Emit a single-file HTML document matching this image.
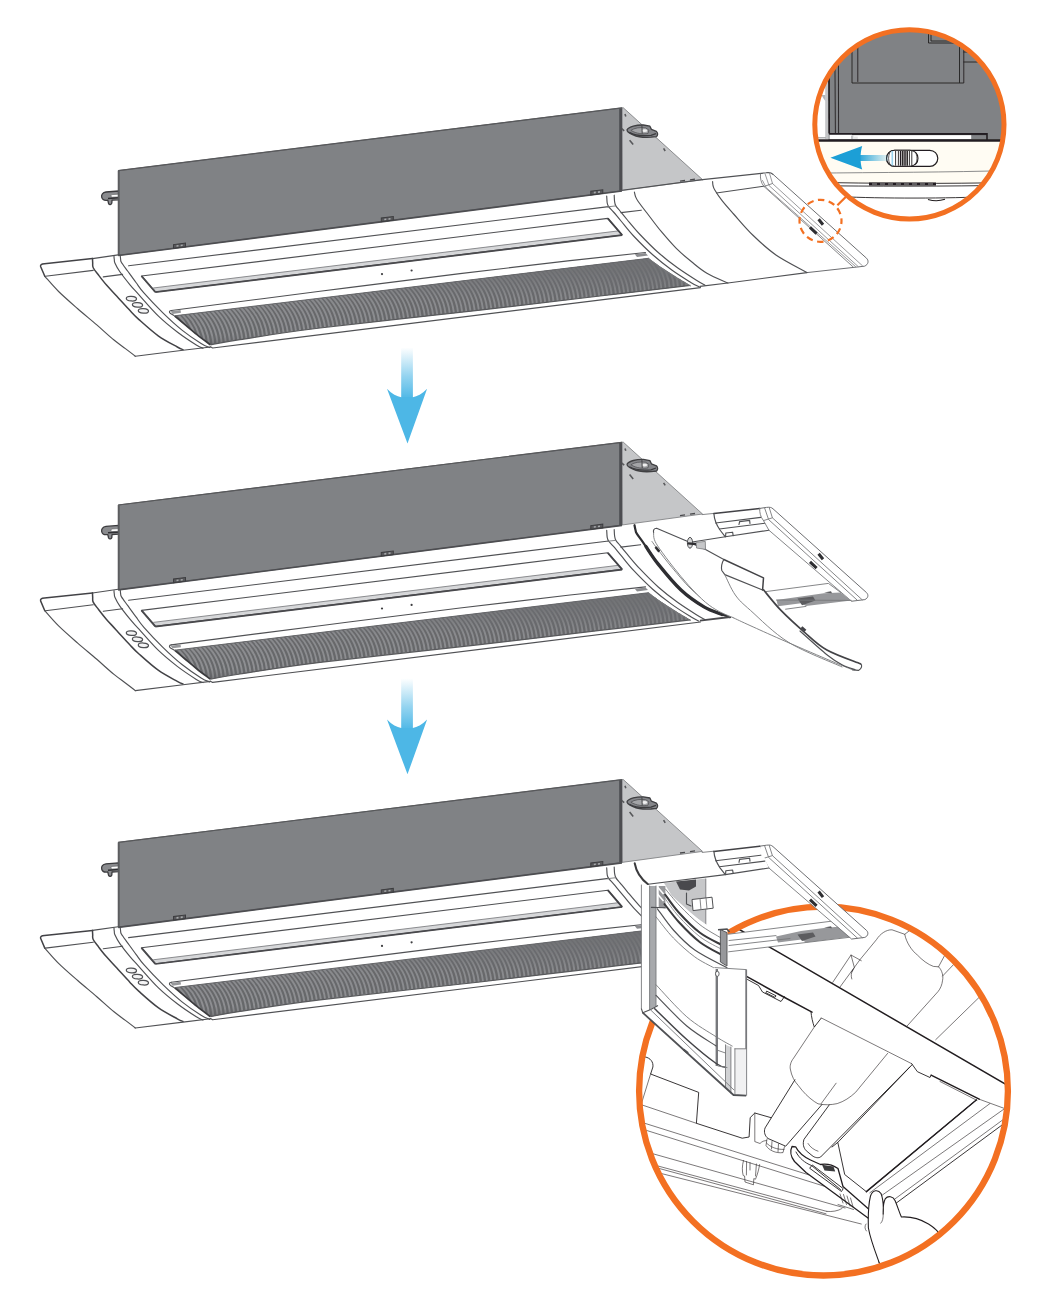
<!DOCTYPE html>
<html><head><meta charset="utf-8"><title>Panel</title>
<style>
html,body{margin:0;padding:0;background:#fff;}
body{width:1048px;height:1308px;overflow:hidden;font-family:"Liberation Sans",sans-serif;}
svg{display:block;}
.l{fill:none;stroke:#505154;stroke-width:1.15;stroke-linecap:round;stroke-linejoin:round;}
.lt{fill:none;stroke:#77787b;stroke-width:0.9;stroke-linecap:round;stroke-linejoin:round;}
.lm{fill:none;stroke:#6d6e71;stroke-width:1;stroke-linecap:round;stroke-linejoin:round;}
.le{fill:none;stroke:#8e8f92;stroke-width:0.9;stroke-linecap:round;stroke-linejoin:round;}
.ld{fill:none;stroke:#434346;stroke-width:1.5;stroke-linecap:round;stroke-linejoin:round;}
.lw{fill:#fff;stroke:#505154;stroke-width:1.15;stroke-linejoin:round;}
.lwt{fill:#fff;stroke:#8a8b8e;stroke-width:0.8;stroke-linejoin:round;}
.k{fill:none;stroke:#231f20;stroke-width:0.9;stroke-linecap:round;stroke-linejoin:round;}
.kw{fill:#fff;stroke:#231f20;stroke-width:0.9;stroke-linejoin:round;}
.k2{fill:none;stroke:#231f20;stroke-width:1.5;stroke-linecap:round;stroke-linejoin:round;}
.kt{fill:none;stroke:#231f20;stroke-width:0.6;stroke-linecap:round;stroke-linejoin:round;}
</style></head>
<body>
<svg width="1048" height="1308" viewBox="0 0 1048 1308">
<defs>
<filter id="soft" x="0" y="0" width="100%" height="100%" filterUnits="userSpaceOnUse" primitiveUnits="userSpaceOnUse"><feGaussianBlur stdDeviation="0.55"/></filter>

<linearGradient id="gdn" x1="0" y1="0" x2="0" y2="1">
  <stop offset="0" stop-color="#4db7e6" stop-opacity="0"/>
  <stop offset="0.55" stop-color="#4db7e6" stop-opacity="0.6"/>
  <stop offset="1" stop-color="#4db7e6" stop-opacity="1"/>
</linearGradient>
<linearGradient id="glf" x1="1" y1="0" x2="0" y2="0">
  <stop offset="0" stop-color="#1b9fd6" stop-opacity="0.1"/>
  <stop offset="1" stop-color="#1b9fd6" stop-opacity="1"/>
</linearGradient>
<pattern id="louv" width="4.1" height="40" patternUnits="userSpaceOnUse" patternTransform="matrix(1,-0.125,-0.25,1,0,0)">
  <rect width="4.1" height="40" fill="#696a6d"/>
  <rect x="0.6" width="1.9" height="40" fill="#8b8c8f"/>
</pattern>
<linearGradient id="gsh" x1="0" y1="0" x2="0.06" y2="1">
  <stop offset="0" stop-color="#6d6e71" stop-opacity="0.95"/>
  <stop offset="0.2" stop-color="#6d6e71" stop-opacity="0.8"/>
  <stop offset="0.5" stop-color="#6d6e71" stop-opacity="0.15"/>
  <stop offset="0.88" stop-color="#6d6e71" stop-opacity="0.0"/>
  <stop offset="1" stop-color="#58595b" stop-opacity="0.45"/>
</linearGradient>
<clipPath id="c1"><circle cx="909.4" cy="124.4" r="94.6"/></clipPath>
<clipPath id="c2"><circle cx="823.5" cy="1091.1" r="184.4"/></clipPath>
<clipPath id="gclip"><path d="M174.6,315.8 C176.3,317.3 181.3,321.5 185.0,324.6 C188.7,327.7 192.8,331.2 197.0,334.6 C201.2,338.0 208.1,343.1 210.3,344.8 L210.3,344.8 C215.2,343.9 221.7,342.4 240.0,339.6 C258.3,336.8 280.0,332.9 320.0,328.0 C360.0,323.1 433.3,315.5 480.0,310.2 C526.7,304.9 564.9,300.1 600.0,296.0 C635.1,291.9 675.3,287.2 690.4,285.4 L690.4,285.4 C688.0,284.0 680.7,279.7 676.0,276.8 C671.3,273.9 666.6,270.9 662.0,267.8 C657.4,264.7 650.8,259.9 648.6,258.3 Z"/></clipPath>
</defs>
<g filter="url(#soft)">
<rect x="-5" y="-5" width="1058" height="1318" fill="#fff"/>
<g clip-path="url(#c1)">
<rect x="810" y="25" width="200" height="200" fill="#fff"/>
<rect x="828.4" y="25" width="190" height="109" fill="#808285"/>
<rect x="825.2" y="25" width="3" height="114" fill="#c4c5c7"/>
<path d="M818,137.8 L826,137.8" stroke="#b0b1b3" stroke-width="1.6" fill="none"/>
<path d="M821.5,95 C823,98 824.5,100 825.4,101 L825.4,95 Z" fill="#b4b5b8"/>
<path d="M828.8,25 L829.2,133.6" stroke="#231f20" stroke-width="1.7" fill="none"/>
<path class="k" d="M834.7,25 L835.4,133.4 M838.3,25 L838.6,133.4"/>
<path class="k" d="M852,30 L852,83 L963.8,83 L963.8,30 M857.8,30 L857.8,81.5 M959.5,30 L959.5,82.5"/>
<path class="k" d="M928.5,25 L928.5,43 L960,43 M931,25 L931,41 L952,41"/>
<path class="k" d="M963.8,52 L978,52 M963.8,62 L985,62" />
<rect x="828.4" y="133.8" width="190" height="7" fill="#808285"/>
<rect x="829.6" y="135" width="141.6" height="4.2" fill="#fff"/>
<rect x="851" y="135.6" width="2.4" height="3.4" fill="#c4c5c7"/>
<rect x="853.8" y="136.6" width="4" height="2.4" fill="#e6e6e6"/>
<path d="M829,133.8 L987,133.8 L987,140" fill="none" stroke="#231f20" stroke-width="1.6"/>
<path d="M852,134.6 L987,134.6" fill="none" stroke="#231f20" stroke-width="1"/>
<rect x="810" y="141" width="200" height="42" fill="#fffcf3"/>
<path d="M810,140.4 L1010,140.4" stroke="#231f20" stroke-width="2.5" fill="none"/>
<path d="M810,173.2 C880,172.4 950,172.3 1010,170.5" stroke="#6d6e71" stroke-width="0.8" fill="none"/>
<rect x="810" y="183" width="200" height="45" fill="#fff"/>
<path d="M810,182.2 C870,183.6 950,183.8 1010,182.5" stroke="#231f20" stroke-width="0.9" fill="none"/>
<path d="M810,185.6 C870,186.4 950,186.4 1010,185.2" stroke="#231f20" stroke-width="0.9" fill="none"/>
<path d="M869,184 L936,184" stroke="#231f20" stroke-width="3" fill="none"/>
<path d="M872,184 L933,184" stroke="#9a9b9e" stroke-width="1" stroke-dasharray="5 3" fill="none"/>
<path d="M840,196.6 C880,198.6 950,198.6 990,196.4" stroke="#231f20" stroke-width="0.9" fill="none"/>
<path d="M928,199.5 C933,201 940,201 945,199.3" stroke="#231f20" stroke-width="1.2" fill="none"/>
<rect x="886.6" y="150.3" width="51.2" height="16" rx="8" ry="8" fill="#fff" stroke="#231f20" stroke-width="1.2"/>
<path d="M894.6,150.3 L910,150.3 C915.5,151 918,154.5 918,158.3 C918,162 915.5,165.6 910,166.3 L894.6,166.3 C890,166.3 886.6,162.8 886.6,158.3 C886.6,153.8 890,150.3 894.6,150.3 Z" fill="#fff" stroke="#231f20" stroke-width="1.1"/>
<path d="M889.8,152.5 C888.2,156 888.2,160.5 889.8,164" stroke="#231f20" stroke-width="0.7" fill="none"/>
<path d="M892.3,151 L892.3,165.6" stroke="#9ad4ee" stroke-width="1.6" fill="none"/>
<path d="M895.6,151 L895.6,165.7" stroke="#231f20" stroke-width="0.9" fill="none"/>
<path d="M898.4,151 L898.4,165.7" stroke="#231f20" stroke-width="0.9" fill="none"/>
<path d="M900.6,151 L900.6,165.7" stroke="#231f20" stroke-width="1.5" fill="none"/>
<path d="M902.8,151 L902.8,165.7" stroke="#231f20" stroke-width="1.5" fill="none"/>
<path d="M905,151 L905,165.7" stroke="#231f20" stroke-width="1.5" fill="none"/>
<path d="M907.2,151 L907.2,165.7" stroke="#231f20" stroke-width="1.5" fill="none"/>
<path d="M909.4,151 L909.4,165.7" stroke="#231f20" stroke-width="0.9" fill="none"/>
<path d="M911.8,151 L911.8,165.7" stroke="#231f20" stroke-width="0.9" fill="none"/>
<path d="M915,151.6 C917.6,155.5 917.6,161 915,165" stroke="#231f20" stroke-width="0.7" fill="none"/>
<rect x="857" y="155" width="31" height="6" fill="url(#glf)"/>
<path d="M830.4,157.7 L862.2,146 C860,153 860,162.5 862.2,169.4 Z" fill="#1b9fd6"/>
</g>
<circle cx="909.4" cy="124.4" r="94.6" fill="none" stroke="#f37021" stroke-width="5"/>
<g transform="translate(0,0)">
<path d="M118.6,191 L106,192 C102.6,192.5 101.2,194.8 101.7,197.2 C102.2,199.4 104,200.4 106.4,200.3 L107.8,200.2 L108.6,203.6 C109.4,205 111.4,204.8 111.8,203.2 L112,200.2 L118.6,199.8 Z" fill="#8a8b8e" stroke="#3a3a3d" stroke-width="1.3" stroke-linejoin="round"/>
<path d="M118.6,194.2 L112,194.6 C110.4,195 110.6,197 112.2,197.2 L118.6,196.9 Z" fill="#fff" stroke="#58595b" stroke-width="0.6"/>
<path d="M108,198.4 L118.6,197.8" stroke="#2f2f32" stroke-width="1.5" fill="none"/>
<path d="M621.5,107.8 L623.3,107.8 L702.5,179.6 L622,190.6 Z" fill="#c5c6c8" stroke="#77787b" stroke-width="0.8" stroke-linejoin="round"/>
<g transform="translate(642.4,131)"><path d="M-15.3,-1.4 C-13.5,-4.4 -6,-6.2 1,-6 L7.5,-4.8 L9,-1.6 L14,0.4 C15.6,2 15.6,4.2 14.2,5.6 L8.6,6.2 C3,6.6 -5,5.8 -9.3,3.8 C-12.8,2.4 -15.8,0.4 -15.3,-1.4 Z" fill="#85868a" stroke="#3f3f42" stroke-width="1.3" stroke-linejoin="round"/><path d="M-11.5,-0.6 C-8,-3.2 -2,-3.8 3,-3.2 L6.5,-1 L5.6,2.4 C1,3.4 -6,2.8 -11.5,-0.6 Z" fill="#a3a4a7" stroke="#4a4a4d" stroke-width="0.7"/><ellipse cx="2.2" cy="-0.3" rx="2.6" ry="1.4" fill="#efefef"/><path d="M-0.5,-5.6 L-0.2,2.6" stroke="#3f3f42" stroke-width="0.9" fill="none"/><path d="M-13,1.4 C-8,4.2 0,5.2 8.6,4.4 L13.6,2.6" fill="none" stroke="#3a3a3d" stroke-width="1.3"/></g>
<path d="M625,114 l0.8,2.4 M629.6,140.2 l3.6,4.4 M663.6,148.4 l1.6,2.6 M621.2,128.2 l3,2.6" fill="none" stroke="#58595b" stroke-width="1.6"/>
<path d="M680,181.2 l5,-0.7 M690,179.8 l5,-0.7" stroke="#4a4a4d" stroke-width="1.3" fill="none"/>
<path d="M118.2,170.6 L621.9,107.9 L621.9,190.8 L118.2,255.4 Z" fill="#808285" stroke="#5f6063" stroke-width="0.9" stroke-linejoin="round"/>
<path d="M118.9,171 L118.9,255" stroke="#58595b" stroke-width="1.5" fill="none"/>
<path d="M118.2,170.6 L621.9,107.9" stroke="#58595b" stroke-width="1.2" fill="none"/>
<path d="M620.6,108.4 L620.6,190.6" stroke="#4d4e51" stroke-width="2.8" fill="none"/>
<path d="M118.2,255.5 L621.9,191" stroke="#4d4e51" stroke-width="1.7" fill="none"/>
<g transform="translate(179.5,245.6) skewY(-7.1)"><rect x="-6" y="-1.7" width="12" height="3.6" fill="#58595b" stroke="#3c3c3f" stroke-width="1"/><rect x="-3" y="-0.7" width="2" height="1.6" fill="#a7a9ac"/><rect x="1.2" y="-0.7" width="2" height="1.6" fill="#a7a9ac"/></g>
<g transform="translate(387.3,219.0) skewY(-7.1)"><rect x="-6" y="-1.7" width="12" height="3.6" fill="#58595b" stroke="#3c3c3f" stroke-width="1"/><rect x="-3" y="-0.7" width="2" height="1.6" fill="#a7a9ac"/><rect x="1.2" y="-0.7" width="2" height="1.6" fill="#a7a9ac"/></g>
<g transform="translate(596.8,192.2) skewY(-7.1)"><rect x="-6" y="-1.7" width="12" height="3.6" fill="#58595b" stroke="#3c3c3f" stroke-width="1"/><rect x="-3" y="-0.7" width="2" height="1.6" fill="#a7a9ac"/><rect x="1.2" y="-0.7" width="2" height="1.6" fill="#a7a9ac"/></g>
<path class="l" d="M118.2,254.9 L92.5,258.6"/>
<path class="ld" d="M92.5,258.6 L44.5,263.7 C41.3,264 40.2,264.8 40.6,266.5 L44.8,276.3"/>
<path class="l" d="M44.8,276.3 C47.1,278.8 53.1,286.1 58.6,291.5 C64.1,296.9 71.3,303.1 77.7,308.7 C84.1,314.3 90.8,319.7 96.8,324.9 C102.8,330.1 109.2,336.1 114.0,340.0 C118.8,343.9 121.9,345.9 125.4,348.6 C129.0,351.3 133.7,354.9 135.3,356.2"/>
<path class="l" d="M45.4,276.3 L93.2,270.4"/>
<path class="ld" d="M92.5,258.6 C92.5,259.3 92.6,261.5 92.7,263.0 C92.8,264.5 92.2,265.6 93.2,267.7 C94.2,269.8 96.5,272.4 98.7,275.3 C100.9,278.2 103.4,281.5 106.3,284.8 C109.2,288.1 112.0,291.0 115.9,295.3 C119.9,299.6 126.2,306.6 130.0,310.6 C133.8,314.7 134.3,315.4 139.0,319.6 C143.7,323.8 151.8,331.2 158.2,335.8 C164.6,340.4 173.2,344.7 177.3,347.0 C181.4,349.3 182.1,349.2 183.0,349.6"/>
<path class="l" d="M103.3,276.9 L122.6,274.4"/>
<path class="l" d="M114.0,256.2 C114.0,256.8 114.1,258.4 114.3,259.5 C114.5,260.6 114.0,260.9 114.9,262.9 C115.8,264.9 117.2,267.9 119.7,271.5 C122.2,275.1 126.8,280.9 130.0,284.8 C133.2,288.7 134.3,289.6 139.0,294.8 C143.7,300.0 151.8,309.6 158.2,315.8 C164.6,322.0 171.0,327.1 177.3,332.0 C183.7,336.9 192.0,342.3 196.3,345.0 C200.6,347.7 201.9,347.7 203.0,348.2"/>
<path class="l" d="M120.2,255.2 C120.3,255.8 120.4,257.8 120.6,259.0 C120.8,260.2 120.3,260.5 121.5,262.5 C122.7,264.5 125.2,267.7 127.6,271.0 C130.0,274.3 133.3,278.9 136.0,282.5 C138.7,286.1 139.4,287.8 143.9,292.9 C148.4,298.0 156.6,306.7 162.9,312.9 C169.2,319.1 175.6,325.0 182.0,330.1 C188.4,335.2 196.5,340.6 201.1,343.5 C205.7,346.4 208.3,346.9 209.7,347.6"/>
<path class="l" d="M135.3,356.2 L183,350.3 L210.5,347"/>
<ellipse cx="131.4" cy="298.7" rx="5.1" ry="2.3" transform="rotate(4 131.4 298.7)" fill="#f4f4f5" stroke="#505154" stroke-width="1.25"/>
<ellipse cx="137.5" cy="304.9" rx="5.1" ry="2.3" transform="rotate(4 137.5 304.9)" fill="#f4f4f5" stroke="#505154" stroke-width="1.25"/>
<ellipse cx="143.4" cy="310.9" rx="5.1" ry="2.3" transform="rotate(4 143.4 310.9)" fill="#f4f4f5" stroke="#505154" stroke-width="1.25"/>
<path class="l" d="M128.6,265.8 L608.6,206.6"/>
<path d="M155.3,292.4 L622.1,235.4 L618.4,230.8 L152.8,288 Z" fill="#d6d7d9" stroke="none"/>
<path class="l" d="M141.5,276.0 L607.8,218.4 L622.1,235.0 L155.3,292.0 L141.5,276.0"/>
<path d="M141.5,276 L155.3,292" stroke="#4a4a4d" stroke-width="1.9" fill="none"/>
<path d="M155.3,292.2 L622.1,235.2" stroke="#4a4a4d" stroke-width="1.7" fill="none"/>
<path d="M153.2,288 L618.4,230.9" stroke="#808184" stroke-width="0.9" fill="none"/>
<path d="M607.8,218.4 L622.1,235" stroke="#434346" stroke-width="1.8" fill="none"/>
<circle cx="382" cy="274.1" r="1.1" fill="#3c3c3f"/><circle cx="411.6" cy="270.5" r="1.1" fill="#3c3c3f"/>
<path class="l" d="M171.3,310.5 C169,310.9 168.9,312.3 170.5,313.6 L174,315.6"/>
<path class="l" d="M171.3,310.5 C196.1,307.3 271.9,297.4 320.0,291.3 C368.1,285.2 418.3,278.7 460.0,273.6 C501.7,268.5 539.1,264.1 570.0,260.6 C600.9,257.1 632.9,253.8 645.5,252.5"/>
<path d="M170.5,311.3 L180.5,310 L181,312.8 L172.6,313.9 Z" fill="#97989b"/>
<path d="M634.8,254.3 L645.5,253 L648,255.6 L637,257 Z" fill="#8b8c8f"/>
<g>
<path d="M174.6,315.8 C176.3,317.3 181.3,321.5 185.0,324.6 C188.7,327.7 192.8,331.2 197.0,334.6 C201.2,338.0 208.1,343.1 210.3,344.8 L210.3,344.8 C215.2,343.9 221.7,342.4 240.0,339.6 C258.3,336.8 280.0,332.9 320.0,328.0 C360.0,323.1 433.3,315.5 480.0,310.2 C526.7,304.9 564.9,300.1 600.0,296.0 C635.1,291.9 675.3,287.2 690.4,285.4 L690.4,285.4 C688.0,284.0 680.7,279.7 676.0,276.8 C671.3,273.9 666.6,270.9 662.0,267.8 C657.4,264.7 650.8,259.9 648.6,258.3 Z" fill="#66676a"/>
<g clip-path="url(#gclip)" fill="none" stroke="#8e8f92" stroke-width="1.9">
<path d="M161.0,316.3 Q175.5,330.3 176.0,350.7 M165.2,315.8 Q179.7,329.8 180.2,350.2 M169.3,315.3 Q183.8,329.3 184.3,349.7 M173.5,314.8 Q188.0,328.8 188.5,349.2 M177.6,314.3 Q192.1,328.3 192.6,348.7 M181.8,313.8 Q196.3,327.8 196.8,348.2 M185.9,313.3 Q200.4,327.3 200.9,347.7 M190.1,312.8 Q204.6,326.8 205.1,347.1 M194.2,312.3 Q208.7,326.3 209.2,346.6 M198.4,311.8 Q212.9,325.8 213.4,346.1 M202.5,311.3 Q217.0,325.3 217.5,345.6 M206.7,310.8 Q221.2,324.8 221.7,345.1 M210.8,310.3 Q225.3,324.3 225.8,344.6 M215.0,309.8 Q229.5,323.8 230.0,344.1 M219.1,309.3 Q233.6,323.3 234.1,343.6 M223.3,308.8 Q237.8,322.8 238.3,343.0 M227.4,308.3 Q241.9,322.3 242.4,342.5 M231.6,307.8 Q246.1,321.8 246.6,342.0 M235.7,307.3 Q250.2,321.3 250.7,341.5 M239.9,306.8 Q254.4,320.8 254.9,341.0 M244.0,306.3 Q258.5,320.3 259.0,340.5 M248.2,305.8 Q262.7,319.8 263.2,340.0 M252.3,305.2 Q266.8,319.2 267.3,339.5 M256.5,304.7 Q271.0,318.7 271.5,338.9 M260.6,304.2 Q275.1,318.2 275.6,338.4 M264.8,303.7 Q279.2,317.7 279.8,337.9 M268.9,303.2 Q283.4,317.2 283.9,337.4 M273.0,302.7 Q287.5,316.7 288.0,336.9 M277.2,302.2 Q291.7,316.2 292.2,336.4 M281.3,301.7 Q295.8,315.7 296.3,335.9 M285.5,301.2 Q300.0,315.2 300.5,335.4 M289.6,300.7 Q304.1,314.7 304.6,334.8 M293.8,300.2 Q308.3,314.2 308.8,334.3 M297.9,299.7 Q312.4,313.7 312.9,333.8 M302.1,299.2 Q316.6,313.2 317.1,333.3 M306.2,298.7 Q320.7,312.7 321.2,332.8 M310.4,298.2 Q324.9,312.2 325.4,332.3 M314.5,297.7 Q329.0,311.7 329.5,331.8 M318.7,297.2 Q333.2,311.2 333.7,331.3 M322.8,296.7 Q337.3,310.7 337.8,330.7 M327.0,296.2 Q341.5,310.2 342.0,330.2 M331.1,295.7 Q345.6,309.7 346.1,329.7 M335.3,295.2 Q349.8,309.2 350.3,329.2 M339.4,294.7 Q353.9,308.7 354.4,328.7 M343.6,294.2 Q358.1,308.2 358.6,328.2 M347.7,293.7 Q362.2,307.7 362.7,327.7 M351.9,293.2 Q366.4,307.2 366.9,327.2 M356.0,292.7 Q370.5,306.7 371.0,326.6 M360.2,292.2 Q374.7,306.2 375.2,326.1 M364.3,291.7 Q378.8,305.7 379.3,325.6 M368.5,291.1 Q383.0,305.1 383.5,325.1 M372.6,290.6 Q387.1,304.6 387.6,324.6 M376.8,290.1 Q391.3,304.1 391.8,324.1 M380.9,289.6 Q395.4,303.6 395.9,323.6 M385.1,289.1 Q399.6,303.1 400.1,323.1 M389.2,288.6 Q403.7,302.6 404.2,322.5 M393.4,288.1 Q407.9,302.1 408.4,322.0 M397.5,287.6 Q412.0,301.6 412.5,321.5 M401.7,287.1 Q416.2,301.1 416.7,321.0 M405.8,286.6 Q420.3,300.6 420.8,320.5 M410.0,286.1 Q424.5,300.1 425.0,320.0 M414.1,285.6 Q428.6,299.6 429.1,319.5 M418.3,285.1 Q432.8,299.1 433.3,319.0 M422.4,284.6 Q436.9,298.6 437.4,318.4 M426.6,284.1 Q441.1,298.1 441.6,317.9 M430.7,283.6 Q445.2,297.6 445.7,317.4 M434.9,283.1 Q449.4,297.1 449.9,316.9 M439.0,282.6 Q453.5,296.6 454.0,316.4 M443.2,282.1 Q457.7,296.1 458.2,315.9 M447.3,281.6 Q461.8,295.6 462.3,315.4 M451.5,281.1 Q466.0,295.1 466.5,314.9 M455.6,280.6 Q470.1,294.6 470.6,314.3 M459.8,280.1 Q474.3,294.1 474.8,313.8 M463.9,279.6 Q478.4,293.6 478.9,313.3 M468.1,279.1 Q482.6,293.1 483.1,312.8 M472.2,278.6 Q486.7,292.6 487.2,312.3 M476.4,278.1 Q490.9,292.1 491.4,311.8 M480.5,277.6 Q495.0,291.6 495.5,311.3 M484.7,277.0 Q499.2,291.0 499.7,310.8 M488.8,276.5 Q503.3,290.5 503.8,310.2 M493.0,276.0 Q507.5,290.0 508.0,309.7 M497.1,275.5 Q511.6,289.5 512.1,309.2 M501.3,275.0 Q515.8,289.0 516.3,308.7 M505.4,274.5 Q519.9,288.5 520.4,308.2 M509.6,274.0 Q524.1,288.0 524.6,307.7 M513.7,273.5 Q528.2,287.5 528.7,307.2 M517.9,273.0 Q532.4,287.0 532.9,306.7 M522.0,272.5 Q536.5,286.5 537.0,306.1 M526.2,272.0 Q540.7,286.0 541.2,305.6 M530.3,271.5 Q544.8,285.5 545.3,305.1 M534.5,271.0 Q549.0,285.0 549.5,304.6 M538.6,270.5 Q553.1,284.5 553.6,304.1 M542.8,270.0 Q557.3,284.0 557.8,303.6 M546.9,269.5 Q561.4,283.5 561.9,303.1 M551.1,269.0 Q565.6,283.0 566.1,302.6 M555.2,268.5 Q569.7,282.5 570.2,302.0 M559.4,268.0 Q573.9,282.0 574.4,301.5 M563.5,267.5 Q578.0,281.5 578.5,301.0 M567.7,267.0 Q582.2,281.0 582.7,300.5 M571.8,266.5 Q586.3,280.5 586.8,300.0 M576.0,266.0 Q590.5,280.0 591.0,299.5 M580.1,265.5 Q594.6,279.5 595.1,299.0 M584.3,265.0 Q598.8,279.0 599.3,298.5 M588.4,264.5 Q602.9,278.5 603.4,297.9 M592.6,264.0 Q607.1,278.0 607.6,297.4 M596.7,263.5 Q611.2,277.5 611.7,296.9 M600.9,262.9 Q615.4,276.9 615.9,296.4 M605.0,262.4 Q619.5,276.4 620.0,295.9 M609.2,261.9 Q623.7,275.9 624.2,295.4 M613.3,261.4 Q627.8,275.4 628.3,294.9 M617.5,260.9 Q632.0,274.9 632.5,294.4 M621.6,260.4 Q636.1,274.4 636.6,293.8 M625.8,259.9 Q640.3,273.9 640.8,293.3 M629.9,259.4 Q644.4,273.4 644.9,292.8 M634.1,258.9 Q648.6,272.9 649.1,292.3 M638.2,258.4 Q652.7,272.4 653.2,291.8 M642.4,257.9 Q656.9,271.9 657.4,291.3 M646.5,257.4 Q661.0,271.4 661.5,290.8 M650.7,256.9 Q665.2,270.9 665.7,290.3 M654.8,256.4 Q669.3,270.4 669.8,289.7 M659.0,255.9 Q673.5,269.9 674.0,289.2 M663.1,255.4 Q677.6,269.4 678.1,288.7 M667.3,254.9 Q681.8,268.9 682.3,288.2 M671.4,254.4 Q685.9,268.4 686.4,287.7 M675.6,253.9 Q690.1,267.9 690.6,287.2 M679.7,253.4 Q694.2,267.4 694.7,286.7 M683.9,252.9 Q698.4,266.9 698.9,286.2"/>
</g>
<path d="M174.6,315.8 C176.3,317.3 181.3,321.5 185.0,324.6 C188.7,327.7 192.8,331.2 197.0,334.6 C201.2,338.0 208.1,343.1 210.3,344.8 L210.3,344.8 C215.2,343.9 221.7,342.4 240.0,339.6 C258.3,336.8 280.0,332.9 320.0,328.0 C360.0,323.1 433.3,315.5 480.0,310.2 C526.7,304.9 564.9,300.1 600.0,296.0 C635.1,291.9 675.3,287.2 690.4,285.4 L690.4,285.4 C688.0,284.0 680.7,279.7 676.0,276.8 C671.3,273.9 666.6,270.9 662.0,267.8 C657.4,264.7 650.8,259.9 648.6,258.3 Z" fill="url(#gsh)"/>
</g>
<path d="M174.6,315.8 C176.3,317.3 181.3,321.5 185.0,324.6 C188.7,327.7 192.8,331.2 197.0,334.6 C201.2,338.0 208.1,343.1 210.3,344.8" stroke="#3a3a3d" stroke-width="1.7" fill="none"/>
<path d="M174.6,315.8 L648.6,258.3" stroke="#66676a" stroke-width="1" fill="none"/>
<path d="M210.3,344.8 C215.2,343.9 221.7,342.4 240.0,339.6 C258.3,336.8 280.0,332.9 320.0,328.0 C360.0,323.1 433.3,315.5 480.0,310.2 C526.7,304.9 564.9,300.1 600.0,296.0 C635.1,291.9 675.3,287.2 690.4,285.4" stroke="#58595b" stroke-width="1.2" fill="none"/>
<path class="l" d="M210.5,346.8 L212.6,348 L700.5,287.6"/>
<path class="l" d="M606.7,196.0 C606.8,197.2 606.9,201.2 607.2,203.0 C607.5,204.8 607.6,205.1 608.6,206.6 C609.6,208.1 611.4,209.6 613.5,212.0 C615.6,214.4 617.6,217.0 621.0,221.0 C624.4,225.0 628.3,230.4 633.6,236.0 C638.9,241.6 646.3,249.1 652.7,254.8 C659.1,260.5 665.4,265.4 671.8,270.0 C678.1,274.6 686.3,279.6 690.8,282.4 C695.3,285.2 697.6,286.1 699.0,286.8"/>
<path class="l" d="M614.2,195.2 C614.3,196.2 614.3,199.7 614.6,201.5 C614.9,203.3 614.9,204.2 615.8,205.8 C616.7,207.4 618.1,208.7 620.0,211.0 C621.9,213.3 623.8,215.7 627.0,219.5 C630.2,223.3 634.2,228.4 639.5,234.0 C644.8,239.6 652.2,247.2 658.5,252.8 C664.8,258.4 671.2,263.3 677.5,267.8 C683.8,272.3 691.4,277.1 696.0,280.0 C700.6,282.9 703.5,284.4 705.0,285.3"/>
<path class="lt" d="M648.6,258.3 C650.8,260.0 657.4,265.4 662.0,268.6 C666.6,271.9 671.3,274.9 676.0,277.8 C680.7,280.7 688.0,284.6 690.4,286.0"/>
<path class="lt" d="M607.4,206.9 L615.8,205.9"/>
<path class="l" d="M622.0,190.3 L702.5,179.6"/>
<path class="l" d="M702.5,179.6 L766,172.8 C769.5,172.3 771.5,172.8 773,174.3"/>
<path class="lm" d="M773,174.3 L866.5,258.2 C869,260.6 868.5,264.5 864.5,266.2 L806.9,272.6"/>
<path class="l" d="M806.9,272.6 L727.9,283 L700,286.4"/>
<path class="l" d="M634.4,192.1 C634.6,192.8 634.9,194.9 635.5,196.5 C636.1,198.1 636.2,198.6 638.2,201.5 C640.2,204.4 643.9,209.1 647.7,214.0 C651.5,218.9 656.2,225.5 661.0,231.2 C665.8,236.9 671.2,243.3 676.3,248.4 C681.4,253.5 686.5,257.7 691.6,261.8 C696.7,265.9 700.9,269.7 706.9,273.2 C712.9,276.7 724.4,281.4 727.9,283.0"/>
<path class="l" d="M712.6,181.6 C712.7,182.2 712.6,184.1 713.0,185.5 C713.4,186.9 713.3,187.5 714.8,190.0 C716.3,192.5 719.0,196.7 722.1,200.7 C725.2,204.7 728.5,208.3 733.6,214.0 C738.7,219.7 745.6,228.1 752.7,235.0 C759.8,241.9 767.3,249.0 776.3,255.2 C785.3,261.4 801.8,269.5 806.9,272.4"/>
<path class="l" d="M621.0,212.6 L641.2,210.2"/>
<path class="l" d="M716.4,193.0 L763.5,186.2"/>
<path class="lt" d="M760.5,174 C760,178 761,183 764,186.5 L853,266.8"/>
<path class="le" d="M765,173.6 L769,185.5 L858,266.4"/>
<path class="le" d="M769.5,173.2 L772.5,183.5 L862.5,265.8"/>
<path class="le" d="M762.5,180.5 L766.2,187.6 L855.6,266.6"/>
<path class="lt" d="M764,186.5 L772.5,183.5"/>
<path d="M818.6,219.2 l4.4,5.6 M810,227.4 l6.6,6.2" stroke="#2f2f32" stroke-width="3" fill="none"/>
</g>
<circle cx="820.5" cy="220.8" r="21" fill="none" stroke="#f37021" stroke-width="2.2" stroke-dasharray="6.6 4.396" stroke-dashoffset="3.3"/>
<path d="M837.4,205.2 L846,196.8" stroke="#f37021" stroke-width="2.2" fill="none"/>
<rect x="401.2" y="347.4" width="11.7" height="52" fill="url(#gdn)"/>
<path d="M387,388.7 C392,393.9 397,396.4 401.2,397.2 L412.9,397.2 C417,396.4 422,393.9 427.1,388.7 L407.5,443.4 Z" fill="#4db7e6"/>
<g transform="translate(0,334.4)">
<path d="M118.6,191 L106,192 C102.6,192.5 101.2,194.8 101.7,197.2 C102.2,199.4 104,200.4 106.4,200.3 L107.8,200.2 L108.6,203.6 C109.4,205 111.4,204.8 111.8,203.2 L112,200.2 L118.6,199.8 Z" fill="#8a8b8e" stroke="#3a3a3d" stroke-width="1.3" stroke-linejoin="round"/>
<path d="M118.6,194.2 L112,194.6 C110.4,195 110.6,197 112.2,197.2 L118.6,196.9 Z" fill="#fff" stroke="#58595b" stroke-width="0.6"/>
<path d="M108,198.4 L118.6,197.8" stroke="#2f2f32" stroke-width="1.5" fill="none"/>
<path d="M621.5,107.8 L623.3,107.8 L702.5,179.6 L622,190.6 Z" fill="#c5c6c8" stroke="#77787b" stroke-width="0.8" stroke-linejoin="round"/>
<g transform="translate(642.4,131)"><path d="M-15.3,-1.4 C-13.5,-4.4 -6,-6.2 1,-6 L7.5,-4.8 L9,-1.6 L14,0.4 C15.6,2 15.6,4.2 14.2,5.6 L8.6,6.2 C3,6.6 -5,5.8 -9.3,3.8 C-12.8,2.4 -15.8,0.4 -15.3,-1.4 Z" fill="#85868a" stroke="#3f3f42" stroke-width="1.3" stroke-linejoin="round"/><path d="M-11.5,-0.6 C-8,-3.2 -2,-3.8 3,-3.2 L6.5,-1 L5.6,2.4 C1,3.4 -6,2.8 -11.5,-0.6 Z" fill="#a3a4a7" stroke="#4a4a4d" stroke-width="0.7"/><ellipse cx="2.2" cy="-0.3" rx="2.6" ry="1.4" fill="#efefef"/><path d="M-0.5,-5.6 L-0.2,2.6" stroke="#3f3f42" stroke-width="0.9" fill="none"/><path d="M-13,1.4 C-8,4.2 0,5.2 8.6,4.4 L13.6,2.6" fill="none" stroke="#3a3a3d" stroke-width="1.3"/></g>
<path d="M625,114 l0.8,2.4 M629.6,140.2 l3.6,4.4 M663.6,148.4 l1.6,2.6 M621.2,128.2 l3,2.6" fill="none" stroke="#58595b" stroke-width="1.6"/>
<path d="M680,181.2 l5,-0.7 M690,179.8 l5,-0.7" stroke="#4a4a4d" stroke-width="1.3" fill="none"/>
<path d="M118.2,170.6 L621.9,107.9 L621.9,190.8 L118.2,255.4 Z" fill="#808285" stroke="#5f6063" stroke-width="0.9" stroke-linejoin="round"/>
<path d="M118.9,171 L118.9,255" stroke="#58595b" stroke-width="1.5" fill="none"/>
<path d="M118.2,170.6 L621.9,107.9" stroke="#58595b" stroke-width="1.2" fill="none"/>
<path d="M620.6,108.4 L620.6,190.6" stroke="#4d4e51" stroke-width="2.8" fill="none"/>
<path d="M118.2,255.5 L621.9,191" stroke="#4d4e51" stroke-width="1.7" fill="none"/>
<g transform="translate(179.5,245.6) skewY(-7.1)"><rect x="-6" y="-1.7" width="12" height="3.6" fill="#58595b" stroke="#3c3c3f" stroke-width="1"/><rect x="-3" y="-0.7" width="2" height="1.6" fill="#a7a9ac"/><rect x="1.2" y="-0.7" width="2" height="1.6" fill="#a7a9ac"/></g>
<g transform="translate(387.3,219.0) skewY(-7.1)"><rect x="-6" y="-1.7" width="12" height="3.6" fill="#58595b" stroke="#3c3c3f" stroke-width="1"/><rect x="-3" y="-0.7" width="2" height="1.6" fill="#a7a9ac"/><rect x="1.2" y="-0.7" width="2" height="1.6" fill="#a7a9ac"/></g>
<g transform="translate(596.8,192.2) skewY(-7.1)"><rect x="-6" y="-1.7" width="12" height="3.6" fill="#58595b" stroke="#3c3c3f" stroke-width="1"/><rect x="-3" y="-0.7" width="2" height="1.6" fill="#a7a9ac"/><rect x="1.2" y="-0.7" width="2" height="1.6" fill="#a7a9ac"/></g>
<path class="l" d="M118.2,254.9 L92.5,258.6"/>
<path class="ld" d="M92.5,258.6 L44.5,263.7 C41.3,264 40.2,264.8 40.6,266.5 L44.8,276.3"/>
<path class="l" d="M44.8,276.3 C47.1,278.8 53.1,286.1 58.6,291.5 C64.1,296.9 71.3,303.1 77.7,308.7 C84.1,314.3 90.8,319.7 96.8,324.9 C102.8,330.1 109.2,336.1 114.0,340.0 C118.8,343.9 121.9,345.9 125.4,348.6 C129.0,351.3 133.7,354.9 135.3,356.2"/>
<path class="l" d="M45.4,276.3 L93.2,270.4"/>
<path class="ld" d="M92.5,258.6 C92.5,259.3 92.6,261.5 92.7,263.0 C92.8,264.5 92.2,265.6 93.2,267.7 C94.2,269.8 96.5,272.4 98.7,275.3 C100.9,278.2 103.4,281.5 106.3,284.8 C109.2,288.1 112.0,291.0 115.9,295.3 C119.9,299.6 126.2,306.6 130.0,310.6 C133.8,314.7 134.3,315.4 139.0,319.6 C143.7,323.8 151.8,331.2 158.2,335.8 C164.6,340.4 173.2,344.7 177.3,347.0 C181.4,349.3 182.1,349.2 183.0,349.6"/>
<path class="l" d="M103.3,276.9 L122.6,274.4"/>
<path class="l" d="M114.0,256.2 C114.0,256.8 114.1,258.4 114.3,259.5 C114.5,260.6 114.0,260.9 114.9,262.9 C115.8,264.9 117.2,267.9 119.7,271.5 C122.2,275.1 126.8,280.9 130.0,284.8 C133.2,288.7 134.3,289.6 139.0,294.8 C143.7,300.0 151.8,309.6 158.2,315.8 C164.6,322.0 171.0,327.1 177.3,332.0 C183.7,336.9 192.0,342.3 196.3,345.0 C200.6,347.7 201.9,347.7 203.0,348.2"/>
<path class="l" d="M120.2,255.2 C120.3,255.8 120.4,257.8 120.6,259.0 C120.8,260.2 120.3,260.5 121.5,262.5 C122.7,264.5 125.2,267.7 127.6,271.0 C130.0,274.3 133.3,278.9 136.0,282.5 C138.7,286.1 139.4,287.8 143.9,292.9 C148.4,298.0 156.6,306.7 162.9,312.9 C169.2,319.1 175.6,325.0 182.0,330.1 C188.4,335.2 196.5,340.6 201.1,343.5 C205.7,346.4 208.3,346.9 209.7,347.6"/>
<path class="l" d="M135.3,356.2 L183,350.3 L210.5,347"/>
<ellipse cx="131.4" cy="298.7" rx="5.1" ry="2.3" transform="rotate(4 131.4 298.7)" fill="#f4f4f5" stroke="#505154" stroke-width="1.25"/>
<ellipse cx="137.5" cy="304.9" rx="5.1" ry="2.3" transform="rotate(4 137.5 304.9)" fill="#f4f4f5" stroke="#505154" stroke-width="1.25"/>
<ellipse cx="143.4" cy="310.9" rx="5.1" ry="2.3" transform="rotate(4 143.4 310.9)" fill="#f4f4f5" stroke="#505154" stroke-width="1.25"/>
<path class="l" d="M128.6,265.8 L608.6,206.6"/>
<path d="M155.3,292.4 L622.1,235.4 L618.4,230.8 L152.8,288 Z" fill="#d6d7d9" stroke="none"/>
<path class="l" d="M141.5,276.0 L607.8,218.4 L622.1,235.0 L155.3,292.0 L141.5,276.0"/>
<path d="M141.5,276 L155.3,292" stroke="#4a4a4d" stroke-width="1.9" fill="none"/>
<path d="M155.3,292.2 L622.1,235.2" stroke="#4a4a4d" stroke-width="1.7" fill="none"/>
<path d="M153.2,288 L618.4,230.9" stroke="#808184" stroke-width="0.9" fill="none"/>
<path d="M607.8,218.4 L622.1,235" stroke="#434346" stroke-width="1.8" fill="none"/>
<circle cx="382" cy="274.1" r="1.1" fill="#3c3c3f"/><circle cx="411.6" cy="270.5" r="1.1" fill="#3c3c3f"/>
<path class="l" d="M171.3,310.5 C169,310.9 168.9,312.3 170.5,313.6 L174,315.6"/>
<path class="l" d="M171.3,310.5 C196.1,307.3 271.9,297.4 320.0,291.3 C368.1,285.2 418.3,278.7 460.0,273.6 C501.7,268.5 539.1,264.1 570.0,260.6 C600.9,257.1 632.9,253.8 645.5,252.5"/>
<path d="M170.5,311.3 L180.5,310 L181,312.8 L172.6,313.9 Z" fill="#97989b"/>
<path d="M634.8,254.3 L645.5,253 L648,255.6 L637,257 Z" fill="#8b8c8f"/>
<g>
<path d="M174.6,315.8 C176.3,317.3 181.3,321.5 185.0,324.6 C188.7,327.7 192.8,331.2 197.0,334.6 C201.2,338.0 208.1,343.1 210.3,344.8 L210.3,344.8 C215.2,343.9 221.7,342.4 240.0,339.6 C258.3,336.8 280.0,332.9 320.0,328.0 C360.0,323.1 433.3,315.5 480.0,310.2 C526.7,304.9 564.9,300.1 600.0,296.0 C635.1,291.9 675.3,287.2 690.4,285.4 L690.4,285.4 C688.0,284.0 680.7,279.7 676.0,276.8 C671.3,273.9 666.6,270.9 662.0,267.8 C657.4,264.7 650.8,259.9 648.6,258.3 Z" fill="#66676a"/>
<g clip-path="url(#gclip)" fill="none" stroke="#8e8f92" stroke-width="1.9">
<path d="M161.0,316.3 Q175.5,330.3 176.0,350.7 M165.2,315.8 Q179.7,329.8 180.2,350.2 M169.3,315.3 Q183.8,329.3 184.3,349.7 M173.5,314.8 Q188.0,328.8 188.5,349.2 M177.6,314.3 Q192.1,328.3 192.6,348.7 M181.8,313.8 Q196.3,327.8 196.8,348.2 M185.9,313.3 Q200.4,327.3 200.9,347.7 M190.1,312.8 Q204.6,326.8 205.1,347.1 M194.2,312.3 Q208.7,326.3 209.2,346.6 M198.4,311.8 Q212.9,325.8 213.4,346.1 M202.5,311.3 Q217.0,325.3 217.5,345.6 M206.7,310.8 Q221.2,324.8 221.7,345.1 M210.8,310.3 Q225.3,324.3 225.8,344.6 M215.0,309.8 Q229.5,323.8 230.0,344.1 M219.1,309.3 Q233.6,323.3 234.1,343.6 M223.3,308.8 Q237.8,322.8 238.3,343.0 M227.4,308.3 Q241.9,322.3 242.4,342.5 M231.6,307.8 Q246.1,321.8 246.6,342.0 M235.7,307.3 Q250.2,321.3 250.7,341.5 M239.9,306.8 Q254.4,320.8 254.9,341.0 M244.0,306.3 Q258.5,320.3 259.0,340.5 M248.2,305.8 Q262.7,319.8 263.2,340.0 M252.3,305.2 Q266.8,319.2 267.3,339.5 M256.5,304.7 Q271.0,318.7 271.5,338.9 M260.6,304.2 Q275.1,318.2 275.6,338.4 M264.8,303.7 Q279.2,317.7 279.8,337.9 M268.9,303.2 Q283.4,317.2 283.9,337.4 M273.0,302.7 Q287.5,316.7 288.0,336.9 M277.2,302.2 Q291.7,316.2 292.2,336.4 M281.3,301.7 Q295.8,315.7 296.3,335.9 M285.5,301.2 Q300.0,315.2 300.5,335.4 M289.6,300.7 Q304.1,314.7 304.6,334.8 M293.8,300.2 Q308.3,314.2 308.8,334.3 M297.9,299.7 Q312.4,313.7 312.9,333.8 M302.1,299.2 Q316.6,313.2 317.1,333.3 M306.2,298.7 Q320.7,312.7 321.2,332.8 M310.4,298.2 Q324.9,312.2 325.4,332.3 M314.5,297.7 Q329.0,311.7 329.5,331.8 M318.7,297.2 Q333.2,311.2 333.7,331.3 M322.8,296.7 Q337.3,310.7 337.8,330.7 M327.0,296.2 Q341.5,310.2 342.0,330.2 M331.1,295.7 Q345.6,309.7 346.1,329.7 M335.3,295.2 Q349.8,309.2 350.3,329.2 M339.4,294.7 Q353.9,308.7 354.4,328.7 M343.6,294.2 Q358.1,308.2 358.6,328.2 M347.7,293.7 Q362.2,307.7 362.7,327.7 M351.9,293.2 Q366.4,307.2 366.9,327.2 M356.0,292.7 Q370.5,306.7 371.0,326.6 M360.2,292.2 Q374.7,306.2 375.2,326.1 M364.3,291.7 Q378.8,305.7 379.3,325.6 M368.5,291.1 Q383.0,305.1 383.5,325.1 M372.6,290.6 Q387.1,304.6 387.6,324.6 M376.8,290.1 Q391.3,304.1 391.8,324.1 M380.9,289.6 Q395.4,303.6 395.9,323.6 M385.1,289.1 Q399.6,303.1 400.1,323.1 M389.2,288.6 Q403.7,302.6 404.2,322.5 M393.4,288.1 Q407.9,302.1 408.4,322.0 M397.5,287.6 Q412.0,301.6 412.5,321.5 M401.7,287.1 Q416.2,301.1 416.7,321.0 M405.8,286.6 Q420.3,300.6 420.8,320.5 M410.0,286.1 Q424.5,300.1 425.0,320.0 M414.1,285.6 Q428.6,299.6 429.1,319.5 M418.3,285.1 Q432.8,299.1 433.3,319.0 M422.4,284.6 Q436.9,298.6 437.4,318.4 M426.6,284.1 Q441.1,298.1 441.6,317.9 M430.7,283.6 Q445.2,297.6 445.7,317.4 M434.9,283.1 Q449.4,297.1 449.9,316.9 M439.0,282.6 Q453.5,296.6 454.0,316.4 M443.2,282.1 Q457.7,296.1 458.2,315.9 M447.3,281.6 Q461.8,295.6 462.3,315.4 M451.5,281.1 Q466.0,295.1 466.5,314.9 M455.6,280.6 Q470.1,294.6 470.6,314.3 M459.8,280.1 Q474.3,294.1 474.8,313.8 M463.9,279.6 Q478.4,293.6 478.9,313.3 M468.1,279.1 Q482.6,293.1 483.1,312.8 M472.2,278.6 Q486.7,292.6 487.2,312.3 M476.4,278.1 Q490.9,292.1 491.4,311.8 M480.5,277.6 Q495.0,291.6 495.5,311.3 M484.7,277.0 Q499.2,291.0 499.7,310.8 M488.8,276.5 Q503.3,290.5 503.8,310.2 M493.0,276.0 Q507.5,290.0 508.0,309.7 M497.1,275.5 Q511.6,289.5 512.1,309.2 M501.3,275.0 Q515.8,289.0 516.3,308.7 M505.4,274.5 Q519.9,288.5 520.4,308.2 M509.6,274.0 Q524.1,288.0 524.6,307.7 M513.7,273.5 Q528.2,287.5 528.7,307.2 M517.9,273.0 Q532.4,287.0 532.9,306.7 M522.0,272.5 Q536.5,286.5 537.0,306.1 M526.2,272.0 Q540.7,286.0 541.2,305.6 M530.3,271.5 Q544.8,285.5 545.3,305.1 M534.5,271.0 Q549.0,285.0 549.5,304.6 M538.6,270.5 Q553.1,284.5 553.6,304.1 M542.8,270.0 Q557.3,284.0 557.8,303.6 M546.9,269.5 Q561.4,283.5 561.9,303.1 M551.1,269.0 Q565.6,283.0 566.1,302.6 M555.2,268.5 Q569.7,282.5 570.2,302.0 M559.4,268.0 Q573.9,282.0 574.4,301.5 M563.5,267.5 Q578.0,281.5 578.5,301.0 M567.7,267.0 Q582.2,281.0 582.7,300.5 M571.8,266.5 Q586.3,280.5 586.8,300.0 M576.0,266.0 Q590.5,280.0 591.0,299.5 M580.1,265.5 Q594.6,279.5 595.1,299.0 M584.3,265.0 Q598.8,279.0 599.3,298.5 M588.4,264.5 Q602.9,278.5 603.4,297.9 M592.6,264.0 Q607.1,278.0 607.6,297.4 M596.7,263.5 Q611.2,277.5 611.7,296.9 M600.9,262.9 Q615.4,276.9 615.9,296.4 M605.0,262.4 Q619.5,276.4 620.0,295.9 M609.2,261.9 Q623.7,275.9 624.2,295.4 M613.3,261.4 Q627.8,275.4 628.3,294.9 M617.5,260.9 Q632.0,274.9 632.5,294.4 M621.6,260.4 Q636.1,274.4 636.6,293.8 M625.8,259.9 Q640.3,273.9 640.8,293.3 M629.9,259.4 Q644.4,273.4 644.9,292.8 M634.1,258.9 Q648.6,272.9 649.1,292.3 M638.2,258.4 Q652.7,272.4 653.2,291.8 M642.4,257.9 Q656.9,271.9 657.4,291.3 M646.5,257.4 Q661.0,271.4 661.5,290.8 M650.7,256.9 Q665.2,270.9 665.7,290.3 M654.8,256.4 Q669.3,270.4 669.8,289.7 M659.0,255.9 Q673.5,269.9 674.0,289.2 M663.1,255.4 Q677.6,269.4 678.1,288.7 M667.3,254.9 Q681.8,268.9 682.3,288.2 M671.4,254.4 Q685.9,268.4 686.4,287.7 M675.6,253.9 Q690.1,267.9 690.6,287.2 M679.7,253.4 Q694.2,267.4 694.7,286.7 M683.9,252.9 Q698.4,266.9 698.9,286.2"/>
</g>
<path d="M174.6,315.8 C176.3,317.3 181.3,321.5 185.0,324.6 C188.7,327.7 192.8,331.2 197.0,334.6 C201.2,338.0 208.1,343.1 210.3,344.8 L210.3,344.8 C215.2,343.9 221.7,342.4 240.0,339.6 C258.3,336.8 280.0,332.9 320.0,328.0 C360.0,323.1 433.3,315.5 480.0,310.2 C526.7,304.9 564.9,300.1 600.0,296.0 C635.1,291.9 675.3,287.2 690.4,285.4 L690.4,285.4 C688.0,284.0 680.7,279.7 676.0,276.8 C671.3,273.9 666.6,270.9 662.0,267.8 C657.4,264.7 650.8,259.9 648.6,258.3 Z" fill="url(#gsh)"/>
</g>
<path d="M174.6,315.8 C176.3,317.3 181.3,321.5 185.0,324.6 C188.7,327.7 192.8,331.2 197.0,334.6 C201.2,338.0 208.1,343.1 210.3,344.8" stroke="#3a3a3d" stroke-width="1.7" fill="none"/>
<path d="M174.6,315.8 L648.6,258.3" stroke="#66676a" stroke-width="1" fill="none"/>
<path d="M210.3,344.8 C215.2,343.9 221.7,342.4 240.0,339.6 C258.3,336.8 280.0,332.9 320.0,328.0 C360.0,323.1 433.3,315.5 480.0,310.2 C526.7,304.9 564.9,300.1 600.0,296.0 C635.1,291.9 675.3,287.2 690.4,285.4" stroke="#58595b" stroke-width="1.2" fill="none"/>
<path class="l" d="M210.5,346.8 L212.6,348 L700.5,287.6"/>
<path class="l" d="M606.7,196.0 C606.8,197.2 606.9,201.2 607.2,203.0 C607.5,204.8 607.6,205.1 608.6,206.6 C609.6,208.1 611.4,209.6 613.5,212.0 C615.6,214.4 617.6,217.0 621.0,221.0 C624.4,225.0 628.3,230.4 633.6,236.0 C638.9,241.6 646.3,249.1 652.7,254.8 C659.1,260.5 665.4,265.4 671.8,270.0 C678.1,274.6 686.3,279.6 690.8,282.4 C695.3,285.2 697.6,286.1 699.0,286.8"/>
<path class="l" d="M614.2,195.2 C614.3,196.2 614.3,199.7 614.6,201.5 C614.9,203.3 614.9,204.2 615.8,205.8 C616.7,207.4 618.1,208.7 620.0,211.0 C621.9,213.3 623.8,215.7 627.0,219.5 C630.2,223.3 634.2,228.4 639.5,234.0 C644.8,239.6 652.2,247.2 658.5,252.8 C664.8,258.4 671.2,263.3 677.5,267.8 C683.8,272.3 691.4,277.1 696.0,280.0 C700.6,282.9 703.5,284.4 705.0,285.3"/>
<path class="lt" d="M648.6,258.3 C650.8,260.0 657.4,265.4 662.0,268.6 C666.6,271.9 671.3,274.9 676.0,277.8 C680.7,280.7 688.0,284.6 690.4,286.0"/>
<path class="lt" d="M607.4,206.9 L615.8,205.9"/>

</g>
<path class="lt" d="M702.2,514.6 L713.9,513.4"/>
<path class="ld" d="M713.9,513.6 L759.7,508.4"/>
<path class="lm" d="M759.7,508.4 L766.5,507.4 C769.5,507 771.5,507.3 773,508.8 L866.5,592.6 C868.8,594.8 868.2,598.2 864.8,599.6 L852,601.2"/>
<path class="l" d="M713.9,513.6 C714.3,519.5 716.5,525 720,530 L725.3,536.8 L768.9,530.2"/>
<path class="l" d="M715.6,523 L760.8,517.4 M719.4,529 L764.8,523.3"/>
<path class="l" d="M739,524.5 L739.6,521.6 L749.6,520.4 L750,523.4 M725.6,536.5 L725.8,533 L732.6,532.2 L733.2,535.6"/>
<path class="lt" d="M759.7,508.6 C759.5,512.5 760.5,517 763.5,520.6 L768.9,530.2 L851.5,601.2"/>
<path class="lt" d="M764.6,508 L768.6,519.6 L857.5,600.4"/>
<path class="lt" d="M769.2,507.6 L772.4,517.8 L862.2,599.8"/>
<path class="lt" d="M763.5,520.6 L772.4,517.8"/>
<path d="M818.6,553.7 l4.4,5.6 M810,561.9 l6.6,6.2" stroke="#2f2f32" stroke-width="3" fill="none"/>
<path class="l" d="M690.5,542.2 L725.3,536.8"/>
<path d="M776.5,600 L823.8,593.3 L840.6,592.4 L851.3,600.4 L806,606 L801,603.3 L778,606.2 Z" fill="#97989b"/>
<path d="M797.5,598.4 L813,596.4 L815.5,600.6 L802,605.3 Z M824,592.6 L831,591.2 L832,593.2 Z" fill="#5b5c5f"/>
<path class="lt" d="M765.8,591.6 L828.4,583.4 L840.6,592.4 M776.5,600 L851.3,600.4 M785.6,609.2 L806,606.4"/>
<path d="M634.5,525.2 C634.7,526.0 635.1,528.6 635.5,530.0 C635.9,531.4 635.3,531.2 636.8,533.6 C638.3,536.0 640.8,539.2 644.4,544.3 C648.0,549.4 652.1,556.5 658.2,564.1 C664.3,571.7 673.4,582.9 681.0,590.0 C688.6,597.1 695.8,602.4 704.0,606.9 C712.2,611.4 725.7,615.5 730.0,617.2" fill="none" stroke="#2f2f32" stroke-width="2.2" stroke-linecap="round"/>
<path d="M646.0,546.6 C648.0,549.5 652.4,556.9 658.2,564.1 C664.0,571.3 673.4,582.9 681.0,590.0 C688.6,597.1 697.2,602.8 704.0,606.9 C710.8,611.0 719.0,613.3 722.0,614.6" fill="none" stroke="#2f2f32" stroke-width="3.3" stroke-linecap="round"/>
<path class="lt" d="M652.0,541.5 C653.0,542.9 654.9,545.7 658.2,550.0 C661.5,554.3 666.7,561.2 672.0,567.5 C677.3,573.8 684.0,582.1 690.0,588.0 C696.0,593.9 702.0,598.9 708.0,603.0 C714.0,607.1 723.0,610.9 726.0,612.5"/>
<path d="M655.5,547 l3.8,4.6" stroke="#2f2f32" stroke-width="2.6" fill="none"/>
<path d="M700,620.6 L730,617" stroke="#4a4a4d" stroke-width="1.8" fill="none"/>
<path class="l" d="M621.0,547.1 L640.5,544.7"/>
<path d="M656.6,528.2 L687.2,541.2 L705.5,549.6 L723.8,559.5 L763.5,577.9 L763.5,589.8 L763.5,589.8 C766.4,593.2 774.2,603.4 781.0,610.4 C787.8,617.4 796.4,625.2 804.0,631.8 C811.6,638.4 817.5,644.7 826.9,650.0 C836.3,655.3 854.9,661.5 860.5,663.8 C862.5,665 862,668.5 858.5,670.4 L852.8,669.9 L852.8,669.9 C848.5,668.1 838.9,664.3 826.9,659.2 C814.9,654.1 793.8,645.0 781.0,639.4 C768.2,633.8 758.0,629.1 750.0,625.5 C742.0,621.9 735.8,618.9 733.0,617.6 L733.0,617.6 C730.7,616.6 723.8,614.0 719.2,611.5 C714.6,609.0 710.6,606.6 705.5,602.3 C700.4,598.0 694.1,591.4 688.7,585.5 C683.4,579.6 678.2,573.3 673.4,567.2 C668.6,561.1 662.9,553.5 659.7,548.9 C656.5,544.3 655.4,542.4 654.4,539.7 C653.4,537.0 653.7,533.9 653.6,532.8 C653,530 654,528.4 656.6,528.2 Z" fill="#fff" stroke="none"/>
<path class="l" d="M653.6,532.8 C653,530 654,528.4 656.6,528.2 L687.2,541.2 L705.5,549.6 L723.8,559.5"/>
<path class="lt" d="M653.6,532.8 C653.7,533.9 653.4,537.0 654.4,539.7 C655.4,542.4 656.5,544.3 659.7,548.9 C662.9,553.5 668.6,561.1 673.4,567.2 C678.2,573.3 683.4,579.6 688.7,585.5 C694.1,591.4 700.4,598.0 705.5,602.3 C710.6,606.6 714.6,609.0 719.2,611.5 C723.8,614.0 730.7,616.6 733.0,617.6"/>
<path class="lt" d="M733.0,617.6 C735.8,618.9 742.0,621.9 750.0,625.5 C758.0,629.1 768.2,633.8 781.0,639.4 C793.8,645.0 814.9,654.1 826.9,659.2 C838.9,664.3 848.5,668.1 852.8,669.9"/>
<path class="ld" d="M723.8,559.5 L763.5,577.9 L762.6,590"/>
<path class="l" d="M723.8,559.5 C721.8,563 721,567 721.8,570.5 L724.8,574.6 L762.6,590"/>
<path d="M763.5,589.8 C766.4,593.2 774.2,603.4 781.0,610.4 C787.8,617.4 796.4,625.2 804.0,631.8 C811.6,638.4 817.5,644.7 826.9,650.0 C836.3,655.3 854.9,661.5 860.5,663.8" fill="none" stroke="#434346" stroke-width="1.7" stroke-linecap="round"/>
<path class="l" d="M860.5,663.8 C862.5,665 862,668.5 858.5,670.4 L852.8,669.9"/>
<path class="l" d="M800.0,631.0 C804.5,635.0 819.9,649.1 826.9,654.7 C833.9,660.3 837.3,662.3 842.0,664.8 C846.7,667.3 852.8,668.8 855.0,669.6"/>
<path class="lt" d="M724.8,574.6 C726.5,578.0 731.0,589.0 735.3,595.0 C739.6,601.0 741.6,602.5 750.5,610.4 C759.4,618.3 773.5,633.0 788.7,642.4 C804.0,651.8 833.1,662.8 842.0,666.9"/>
<path d="M801.5,627.2 l4,3.6" stroke="#434346" stroke-width="2.6" fill="none"/>
<path d="M696.3,542.4 L705.3,541.4 L705.5,549.4 L696.5,548 Z" fill="#c6c7c9" stroke="#77787b" stroke-width="0.8"/>
<ellipse cx="690" cy="542.8" rx="2.6" ry="5.4" fill="#d8d9da" stroke="#505154" stroke-width="1"/>
<path d="M687.5,543.4 L696,544" stroke="#2f2f32" stroke-width="2.4" fill="none"/>
<rect x="401.2" y="678.3" width="11.7" height="52" fill="url(#gdn)"/>
<path d="M387,719.5999999999999 C392,724.8 397,727.3 401.2,728.0999999999999 L412.9,728.0999999999999 C417,727.3 422,724.8 427.1,719.5999999999999 L407.5,774.3 Z" fill="#4db7e6"/>
<circle cx="823.5" cy="1091.1" r="184.4" fill="#fff"/>
<g clip-path="url(#c2)">
<path class="k" d="M912.2,1064.6 L837.8,1142.4 L844.7,1174.5 L866.4,1191.7 L976.3,1100"/>
<path class="k2" d="M866.4,1191.7 L976.3,1100"/>
<path class="kt" d="M869.8,1192.8 L990,1103.5 M882.4,1195 L1003.8,1109.2 M893.9,1199.7 L1006,1117.5"/>
<path class="k" d="M896.2,1203.1 L1008,1120.6"/>
<path class="kt" d="M840,987 L860.1,959.5 L876.5,939.6 C880,934 886,929.6 892,929.8 L904.8,934.3 C906,942 912,951 917.4,955 C922,960 928,964.5 933.4,966.4 L938.5,966.8 C942,970 943.5,976 942.6,980.2 C942,985 940.5,988.5 938,991.6 L907.1,1026"/>
<path class="kt" d="M904.8,934.3 L910.5,929.8 M938.5,966.8 L944.9,955 M942.6,976 L954,964.1"/>
<path class="kt" d="M832.7,982.4 L851,955 L861.3,960.7 M851,955 L854.4,967.6 L851.6,972 M853,969.8 C851,972.5 850.8,976 851.8,979"/>
<path class="kt" d="M935.7,1039.7 L979.2,997.3"/>
<path class="kt" d="M814.3,1027 L793.7,1058 C790.5,1062 789.8,1066 790.3,1069 C791.5,1076 794.5,1081.5 798.3,1085.5 C803,1092 808.5,1097.5 814.3,1101.5 L818,1103.8 C824,1105.2 831,1105 837.2,1103.6 C844,1101.5 850,1097.5 855.6,1092.3 L887.6,1053.4"/>
<path class="kt" d="M821.2,1103.6 L836.1,1083.2"/>
<path class="k" d="M811,1012 C811.5,1017 812.5,1022 814.3,1027 L821.5,1017.8"/>
<path class="k" d="M794.9,1079.8 L765.1,1127.9 C763.5,1132 765,1136 768,1138.5 L785.7,1146.2 L822,1104.5"/>
<path class="k" d="M829.2,1105 L804,1139.3 C802.5,1144 803.5,1148 806.3,1150.8 L812,1155.5 C815,1158 818.5,1158.2 820.6,1157 L909.9,1066.9"/>
<path class="kt" d="M808,1143.5 C810,1147 814,1150 818,1151.2"/>
<path class="k" d="M837.8,1142.4 L832,1147"/>
<path class="kt" d="M767,1139 L766,1145.5 C769,1150.5 776,1153.5 783,1152.6 L784.5,1146.6 M766.5,1143 C770,1147 777,1149.8 784,1149.4 M772,1141.5 L771.5,1149 M778.5,1144 L778,1151.8"/>
<path d="M600,850 L780,953.1 L1005.6,1084.3 L1040,1104 L1040,1128 L1004.4,1108.4 L979.2,1099.2 L931.1,1075.2 L911.7,1063.7 L821.2,1017.9 L812,1012.2 L780,995 L600,893 Z" fill="#fff"/>
<path class="k2" d="M722,919.5 L780,953.1 L1012,1088"/>
<path class="k2" d="M747,976.6 L780,995 L812,1012.2"/>
<path class="kt" d="M821.2,1017.9 L911.7,1063.7"/>
<path class="k" d="M911.7,1063.7 L917.4,1071.7 L930,1077.5 L931.1,1075.2"/>
<path class="k2" d="M931.1,1075.2 L979.2,1099.2"/>
<path class="kt" d="M979.2,1099.2 L1010,1110.5 M940,1081.5 L977,1100.4"/>
<path class="k" d="M747.5,979.5 L758.5,985.5 L762.5,992 L781,1001.5 L784.5,996.6 M767,991.3 L776,995.8 L775,997.4 L766.2,993 Z"/>
<path class="k" d="M636.9,1057.5 L645,1056.9 C650.5,1058 653.5,1062 652.9,1067 L650.6,1074 L698.7,1092.4 L696.4,1123.3 L742.2,1138.2 L749.1,1137 L750.2,1117.6 L754.8,1113 L770.8,1117.6"/>
<path class="kt" d="M650.6,1074 L641,1105"/>
<path class="kt" d="M754.8,1113 L754.8,1141.6 L760,1143.5 C762,1141.5 764,1140.5 766.5,1140.6"/>
<path class="kt" d="M638,1103.6 L696.4,1123.3"/>
<path class="kt" d="M640,1121.8 L808.6,1174.8 M642,1129 L838,1190.5 M646,1151.8 L845,1208 M655,1165.2 L826.9,1211.4 M656,1167.6 L826,1213.8 M660,1173.2 L861.3,1224"/>
<path class="kt" d="M826.9,1211.4 C832,1212 838,1211 842,1208.5"/>
<path class="kt" d="M743.5,1160.5 C742,1166 742,1171 743.2,1175.5 L744.6,1176 L745,1182 L753.5,1184.8 L753.8,1178.6 L755.5,1179.2 C757.5,1174.5 758.8,1169.5 759.6,1164.6 M746.6,1161.5 L746.4,1175 M750,1162.6 L750,1170 M756.4,1164 L755.5,1176"/>
<path d="M792,1146.5 C790,1150.5 790.5,1156.5 794.5,1161.5 L806,1172.5 L868.7,1218.5 L872,1212 L843,1186.5 L838,1168.5 C832,1164.5 826,1163.5 820.5,1164.5 L810.5,1160 C804,1157 798.5,1152.5 795.6,1146.8 Z" fill="#fff" stroke="#231f20" stroke-width="1.3" stroke-linejoin="round"/>
<path class="k" d="M796,1152 C799,1158 805,1163 811.5,1165.5 L840.5,1189.5 M810,1168.5 L841.5,1191.5 L843.2,1188.6 L812.6,1165.2 Z"/>
<path d="M822,1164.8 L833.5,1166.4 L835.2,1171.5 L824.5,1170.6 Z" fill="#3a3a3d"/>
<path class="kt" d="M840,1194 l3,9 M843.5,1194.5 l3,10 M847,1196 l3,10 M850.5,1198 l2.6,9 M838,1204.5 L853.5,1209.5"/>
<path d="M868.4,1228 C868,1216 868.5,1204 870.5,1196 C872.5,1190 878,1189 881,1193.5 C883.2,1199 883.6,1207 883.2,1214 C883,1208 883.6,1202 885.4,1198.6 C888,1195.5 893,1196.2 895,1200.5 C897.5,1206 899,1212 901.4,1217 C910,1216.5 921,1219.5 928.5,1224 C932.5,1226.6 935.6,1229 937.8,1231.6 L940,1260 L884,1276 C878,1258 871,1243 868.4,1228 Z" fill="#fff" stroke="#231f20" stroke-width="1.1" stroke-linejoin="round"/>
<path class="kt" d="M883.2,1214 C883.3,1218 882.6,1221.5 880.8,1223.2 M866,1224 C864.5,1226 864.6,1229 866.4,1231 M878.5,1261.5 L881.5,1268"/>
</g>
<circle cx="823.5" cy="1091.1" r="184.4" fill="none" stroke="#f37021" stroke-width="6.3"/>
<g transform="translate(0,671.8)">
<path d="M118.6,191 L106,192 C102.6,192.5 101.2,194.8 101.7,197.2 C102.2,199.4 104,200.4 106.4,200.3 L107.8,200.2 L108.6,203.6 C109.4,205 111.4,204.8 111.8,203.2 L112,200.2 L118.6,199.8 Z" fill="#8a8b8e" stroke="#3a3a3d" stroke-width="1.3" stroke-linejoin="round"/>
<path d="M118.6,194.2 L112,194.6 C110.4,195 110.6,197 112.2,197.2 L118.6,196.9 Z" fill="#fff" stroke="#58595b" stroke-width="0.6"/>
<path d="M108,198.4 L118.6,197.8" stroke="#2f2f32" stroke-width="1.5" fill="none"/>
<path d="M621.5,107.8 L623.3,107.8 L702.5,179.6 L622,190.6 Z" fill="#c5c6c8" stroke="#77787b" stroke-width="0.8" stroke-linejoin="round"/>
<g transform="translate(642.4,131)"><path d="M-15.3,-1.4 C-13.5,-4.4 -6,-6.2 1,-6 L7.5,-4.8 L9,-1.6 L14,0.4 C15.6,2 15.6,4.2 14.2,5.6 L8.6,6.2 C3,6.6 -5,5.8 -9.3,3.8 C-12.8,2.4 -15.8,0.4 -15.3,-1.4 Z" fill="#85868a" stroke="#3f3f42" stroke-width="1.3" stroke-linejoin="round"/><path d="M-11.5,-0.6 C-8,-3.2 -2,-3.8 3,-3.2 L6.5,-1 L5.6,2.4 C1,3.4 -6,2.8 -11.5,-0.6 Z" fill="#a3a4a7" stroke="#4a4a4d" stroke-width="0.7"/><ellipse cx="2.2" cy="-0.3" rx="2.6" ry="1.4" fill="#efefef"/><path d="M-0.5,-5.6 L-0.2,2.6" stroke="#3f3f42" stroke-width="0.9" fill="none"/><path d="M-13,1.4 C-8,4.2 0,5.2 8.6,4.4 L13.6,2.6" fill="none" stroke="#3a3a3d" stroke-width="1.3"/></g>
<path d="M625,114 l0.8,2.4 M629.6,140.2 l3.6,4.4 M663.6,148.4 l1.6,2.6 M621.2,128.2 l3,2.6" fill="none" stroke="#58595b" stroke-width="1.6"/>
<path d="M680,181.2 l5,-0.7 M690,179.8 l5,-0.7" stroke="#4a4a4d" stroke-width="1.3" fill="none"/>
<path d="M118.2,170.6 L621.9,107.9 L621.9,190.8 L118.2,255.4 Z" fill="#808285" stroke="#5f6063" stroke-width="0.9" stroke-linejoin="round"/>
<path d="M118.9,171 L118.9,255" stroke="#58595b" stroke-width="1.5" fill="none"/>
<path d="M118.2,170.6 L621.9,107.9" stroke="#58595b" stroke-width="1.2" fill="none"/>
<path d="M620.6,108.4 L620.6,190.6" stroke="#4d4e51" stroke-width="2.8" fill="none"/>
<path d="M118.2,255.5 L621.9,191" stroke="#4d4e51" stroke-width="1.7" fill="none"/>
<g transform="translate(179.5,245.6) skewY(-7.1)"><rect x="-6" y="-1.7" width="12" height="3.6" fill="#58595b" stroke="#3c3c3f" stroke-width="1"/><rect x="-3" y="-0.7" width="2" height="1.6" fill="#a7a9ac"/><rect x="1.2" y="-0.7" width="2" height="1.6" fill="#a7a9ac"/></g>
<g transform="translate(387.3,219.0) skewY(-7.1)"><rect x="-6" y="-1.7" width="12" height="3.6" fill="#58595b" stroke="#3c3c3f" stroke-width="1"/><rect x="-3" y="-0.7" width="2" height="1.6" fill="#a7a9ac"/><rect x="1.2" y="-0.7" width="2" height="1.6" fill="#a7a9ac"/></g>
<g transform="translate(596.8,192.2) skewY(-7.1)"><rect x="-6" y="-1.7" width="12" height="3.6" fill="#58595b" stroke="#3c3c3f" stroke-width="1"/><rect x="-3" y="-0.7" width="2" height="1.6" fill="#a7a9ac"/><rect x="1.2" y="-0.7" width="2" height="1.6" fill="#a7a9ac"/></g>
<path class="l" d="M118.2,254.9 L92.5,258.6"/>
<path class="ld" d="M92.5,258.6 L44.5,263.7 C41.3,264 40.2,264.8 40.6,266.5 L44.8,276.3"/>
<path class="l" d="M44.8,276.3 C47.1,278.8 53.1,286.1 58.6,291.5 C64.1,296.9 71.3,303.1 77.7,308.7 C84.1,314.3 90.8,319.7 96.8,324.9 C102.8,330.1 109.2,336.1 114.0,340.0 C118.8,343.9 121.9,345.9 125.4,348.6 C129.0,351.3 133.7,354.9 135.3,356.2"/>
<path class="l" d="M45.4,276.3 L93.2,270.4"/>
<path class="ld" d="M92.5,258.6 C92.5,259.3 92.6,261.5 92.7,263.0 C92.8,264.5 92.2,265.6 93.2,267.7 C94.2,269.8 96.5,272.4 98.7,275.3 C100.9,278.2 103.4,281.5 106.3,284.8 C109.2,288.1 112.0,291.0 115.9,295.3 C119.9,299.6 126.2,306.6 130.0,310.6 C133.8,314.7 134.3,315.4 139.0,319.6 C143.7,323.8 151.8,331.2 158.2,335.8 C164.6,340.4 173.2,344.7 177.3,347.0 C181.4,349.3 182.1,349.2 183.0,349.6"/>
<path class="l" d="M103.3,276.9 L122.6,274.4"/>
<path class="l" d="M114.0,256.2 C114.0,256.8 114.1,258.4 114.3,259.5 C114.5,260.6 114.0,260.9 114.9,262.9 C115.8,264.9 117.2,267.9 119.7,271.5 C122.2,275.1 126.8,280.9 130.0,284.8 C133.2,288.7 134.3,289.6 139.0,294.8 C143.7,300.0 151.8,309.6 158.2,315.8 C164.6,322.0 171.0,327.1 177.3,332.0 C183.7,336.9 192.0,342.3 196.3,345.0 C200.6,347.7 201.9,347.7 203.0,348.2"/>
<path class="l" d="M120.2,255.2 C120.3,255.8 120.4,257.8 120.6,259.0 C120.8,260.2 120.3,260.5 121.5,262.5 C122.7,264.5 125.2,267.7 127.6,271.0 C130.0,274.3 133.3,278.9 136.0,282.5 C138.7,286.1 139.4,287.8 143.9,292.9 C148.4,298.0 156.6,306.7 162.9,312.9 C169.2,319.1 175.6,325.0 182.0,330.1 C188.4,335.2 196.5,340.6 201.1,343.5 C205.7,346.4 208.3,346.9 209.7,347.6"/>
<path class="l" d="M135.3,356.2 L183,350.3 L210.5,347"/>
<ellipse cx="131.4" cy="298.7" rx="5.1" ry="2.3" transform="rotate(4 131.4 298.7)" fill="#f4f4f5" stroke="#505154" stroke-width="1.25"/>
<ellipse cx="137.5" cy="304.9" rx="5.1" ry="2.3" transform="rotate(4 137.5 304.9)" fill="#f4f4f5" stroke="#505154" stroke-width="1.25"/>
<ellipse cx="143.4" cy="310.9" rx="5.1" ry="2.3" transform="rotate(4 143.4 310.9)" fill="#f4f4f5" stroke="#505154" stroke-width="1.25"/>
<path class="l" d="M128.6,265.8 L608.6,206.6"/>
<path d="M155.3,292.4 L622.1,235.4 L618.4,230.8 L152.8,288 Z" fill="#d6d7d9" stroke="none"/>
<path class="l" d="M141.5,276.0 L607.8,218.4 L622.1,235.0 L155.3,292.0 L141.5,276.0"/>
<path d="M141.5,276 L155.3,292" stroke="#4a4a4d" stroke-width="1.9" fill="none"/>
<path d="M155.3,292.2 L622.1,235.2" stroke="#4a4a4d" stroke-width="1.7" fill="none"/>
<path d="M153.2,288 L618.4,230.9" stroke="#808184" stroke-width="0.9" fill="none"/>
<path d="M607.8,218.4 L622.1,235" stroke="#434346" stroke-width="1.8" fill="none"/>
<circle cx="382" cy="274.1" r="1.1" fill="#3c3c3f"/><circle cx="411.6" cy="270.5" r="1.1" fill="#3c3c3f"/>
<path class="l" d="M171.3,310.5 C169,310.9 168.9,312.3 170.5,313.6 L174,315.6"/>
<path class="l" d="M171.3,310.5 C196.1,307.3 271.9,297.4 320.0,291.3 C368.1,285.2 418.3,278.7 460.0,273.6 C501.7,268.5 539.1,264.1 570.0,260.6 C600.9,257.1 632.9,253.8 645.5,252.5"/>
<path d="M170.5,311.3 L180.5,310 L181,312.8 L172.6,313.9 Z" fill="#97989b"/>
<path d="M634.8,254.3 L645.5,253 L648,255.6 L637,257 Z" fill="#8b8c8f"/>
<g>
<path d="M174.6,315.8 C176.3,317.3 181.3,321.5 185.0,324.6 C188.7,327.7 192.8,331.2 197.0,334.6 C201.2,338.0 208.1,343.1 210.3,344.8 L210.3,344.8 C215.2,343.9 221.7,342.4 240.0,339.6 C258.3,336.8 280.0,332.9 320.0,328.0 C360.0,323.1 433.3,315.5 480.0,310.2 C526.7,304.9 564.9,300.1 600.0,296.0 C635.1,291.9 675.3,287.2 690.4,285.4 L690.4,285.4 C688.0,284.0 680.7,279.7 676.0,276.8 C671.3,273.9 666.6,270.9 662.0,267.8 C657.4,264.7 650.8,259.9 648.6,258.3 Z" fill="#66676a"/>
<g clip-path="url(#gclip)" fill="none" stroke="#8e8f92" stroke-width="1.9">
<path d="M161.0,316.3 Q175.5,330.3 176.0,350.7 M165.2,315.8 Q179.7,329.8 180.2,350.2 M169.3,315.3 Q183.8,329.3 184.3,349.7 M173.5,314.8 Q188.0,328.8 188.5,349.2 M177.6,314.3 Q192.1,328.3 192.6,348.7 M181.8,313.8 Q196.3,327.8 196.8,348.2 M185.9,313.3 Q200.4,327.3 200.9,347.7 M190.1,312.8 Q204.6,326.8 205.1,347.1 M194.2,312.3 Q208.7,326.3 209.2,346.6 M198.4,311.8 Q212.9,325.8 213.4,346.1 M202.5,311.3 Q217.0,325.3 217.5,345.6 M206.7,310.8 Q221.2,324.8 221.7,345.1 M210.8,310.3 Q225.3,324.3 225.8,344.6 M215.0,309.8 Q229.5,323.8 230.0,344.1 M219.1,309.3 Q233.6,323.3 234.1,343.6 M223.3,308.8 Q237.8,322.8 238.3,343.0 M227.4,308.3 Q241.9,322.3 242.4,342.5 M231.6,307.8 Q246.1,321.8 246.6,342.0 M235.7,307.3 Q250.2,321.3 250.7,341.5 M239.9,306.8 Q254.4,320.8 254.9,341.0 M244.0,306.3 Q258.5,320.3 259.0,340.5 M248.2,305.8 Q262.7,319.8 263.2,340.0 M252.3,305.2 Q266.8,319.2 267.3,339.5 M256.5,304.7 Q271.0,318.7 271.5,338.9 M260.6,304.2 Q275.1,318.2 275.6,338.4 M264.8,303.7 Q279.2,317.7 279.8,337.9 M268.9,303.2 Q283.4,317.2 283.9,337.4 M273.0,302.7 Q287.5,316.7 288.0,336.9 M277.2,302.2 Q291.7,316.2 292.2,336.4 M281.3,301.7 Q295.8,315.7 296.3,335.9 M285.5,301.2 Q300.0,315.2 300.5,335.4 M289.6,300.7 Q304.1,314.7 304.6,334.8 M293.8,300.2 Q308.3,314.2 308.8,334.3 M297.9,299.7 Q312.4,313.7 312.9,333.8 M302.1,299.2 Q316.6,313.2 317.1,333.3 M306.2,298.7 Q320.7,312.7 321.2,332.8 M310.4,298.2 Q324.9,312.2 325.4,332.3 M314.5,297.7 Q329.0,311.7 329.5,331.8 M318.7,297.2 Q333.2,311.2 333.7,331.3 M322.8,296.7 Q337.3,310.7 337.8,330.7 M327.0,296.2 Q341.5,310.2 342.0,330.2 M331.1,295.7 Q345.6,309.7 346.1,329.7 M335.3,295.2 Q349.8,309.2 350.3,329.2 M339.4,294.7 Q353.9,308.7 354.4,328.7 M343.6,294.2 Q358.1,308.2 358.6,328.2 M347.7,293.7 Q362.2,307.7 362.7,327.7 M351.9,293.2 Q366.4,307.2 366.9,327.2 M356.0,292.7 Q370.5,306.7 371.0,326.6 M360.2,292.2 Q374.7,306.2 375.2,326.1 M364.3,291.7 Q378.8,305.7 379.3,325.6 M368.5,291.1 Q383.0,305.1 383.5,325.1 M372.6,290.6 Q387.1,304.6 387.6,324.6 M376.8,290.1 Q391.3,304.1 391.8,324.1 M380.9,289.6 Q395.4,303.6 395.9,323.6 M385.1,289.1 Q399.6,303.1 400.1,323.1 M389.2,288.6 Q403.7,302.6 404.2,322.5 M393.4,288.1 Q407.9,302.1 408.4,322.0 M397.5,287.6 Q412.0,301.6 412.5,321.5 M401.7,287.1 Q416.2,301.1 416.7,321.0 M405.8,286.6 Q420.3,300.6 420.8,320.5 M410.0,286.1 Q424.5,300.1 425.0,320.0 M414.1,285.6 Q428.6,299.6 429.1,319.5 M418.3,285.1 Q432.8,299.1 433.3,319.0 M422.4,284.6 Q436.9,298.6 437.4,318.4 M426.6,284.1 Q441.1,298.1 441.6,317.9 M430.7,283.6 Q445.2,297.6 445.7,317.4 M434.9,283.1 Q449.4,297.1 449.9,316.9 M439.0,282.6 Q453.5,296.6 454.0,316.4 M443.2,282.1 Q457.7,296.1 458.2,315.9 M447.3,281.6 Q461.8,295.6 462.3,315.4 M451.5,281.1 Q466.0,295.1 466.5,314.9 M455.6,280.6 Q470.1,294.6 470.6,314.3 M459.8,280.1 Q474.3,294.1 474.8,313.8 M463.9,279.6 Q478.4,293.6 478.9,313.3 M468.1,279.1 Q482.6,293.1 483.1,312.8 M472.2,278.6 Q486.7,292.6 487.2,312.3 M476.4,278.1 Q490.9,292.1 491.4,311.8 M480.5,277.6 Q495.0,291.6 495.5,311.3 M484.7,277.0 Q499.2,291.0 499.7,310.8 M488.8,276.5 Q503.3,290.5 503.8,310.2 M493.0,276.0 Q507.5,290.0 508.0,309.7 M497.1,275.5 Q511.6,289.5 512.1,309.2 M501.3,275.0 Q515.8,289.0 516.3,308.7 M505.4,274.5 Q519.9,288.5 520.4,308.2 M509.6,274.0 Q524.1,288.0 524.6,307.7 M513.7,273.5 Q528.2,287.5 528.7,307.2 M517.9,273.0 Q532.4,287.0 532.9,306.7 M522.0,272.5 Q536.5,286.5 537.0,306.1 M526.2,272.0 Q540.7,286.0 541.2,305.6 M530.3,271.5 Q544.8,285.5 545.3,305.1 M534.5,271.0 Q549.0,285.0 549.5,304.6 M538.6,270.5 Q553.1,284.5 553.6,304.1 M542.8,270.0 Q557.3,284.0 557.8,303.6 M546.9,269.5 Q561.4,283.5 561.9,303.1 M551.1,269.0 Q565.6,283.0 566.1,302.6 M555.2,268.5 Q569.7,282.5 570.2,302.0 M559.4,268.0 Q573.9,282.0 574.4,301.5 M563.5,267.5 Q578.0,281.5 578.5,301.0 M567.7,267.0 Q582.2,281.0 582.7,300.5 M571.8,266.5 Q586.3,280.5 586.8,300.0 M576.0,266.0 Q590.5,280.0 591.0,299.5 M580.1,265.5 Q594.6,279.5 595.1,299.0 M584.3,265.0 Q598.8,279.0 599.3,298.5 M588.4,264.5 Q602.9,278.5 603.4,297.9 M592.6,264.0 Q607.1,278.0 607.6,297.4 M596.7,263.5 Q611.2,277.5 611.7,296.9 M600.9,262.9 Q615.4,276.9 615.9,296.4 M605.0,262.4 Q619.5,276.4 620.0,295.9 M609.2,261.9 Q623.7,275.9 624.2,295.4 M613.3,261.4 Q627.8,275.4 628.3,294.9 M617.5,260.9 Q632.0,274.9 632.5,294.4 M621.6,260.4 Q636.1,274.4 636.6,293.8 M625.8,259.9 Q640.3,273.9 640.8,293.3 M629.9,259.4 Q644.4,273.4 644.9,292.8 M634.1,258.9 Q648.6,272.9 649.1,292.3 M638.2,258.4 Q652.7,272.4 653.2,291.8 M642.4,257.9 Q656.9,271.9 657.4,291.3 M646.5,257.4 Q661.0,271.4 661.5,290.8 M650.7,256.9 Q665.2,270.9 665.7,290.3 M654.8,256.4 Q669.3,270.4 669.8,289.7 M659.0,255.9 Q673.5,269.9 674.0,289.2 M663.1,255.4 Q677.6,269.4 678.1,288.7 M667.3,254.9 Q681.8,268.9 682.3,288.2 M671.4,254.4 Q685.9,268.4 686.4,287.7 M675.6,253.9 Q690.1,267.9 690.6,287.2 M679.7,253.4 Q694.2,267.4 694.7,286.7 M683.9,252.9 Q698.4,266.9 698.9,286.2"/>
</g>
<path d="M174.6,315.8 C176.3,317.3 181.3,321.5 185.0,324.6 C188.7,327.7 192.8,331.2 197.0,334.6 C201.2,338.0 208.1,343.1 210.3,344.8 L210.3,344.8 C215.2,343.9 221.7,342.4 240.0,339.6 C258.3,336.8 280.0,332.9 320.0,328.0 C360.0,323.1 433.3,315.5 480.0,310.2 C526.7,304.9 564.9,300.1 600.0,296.0 C635.1,291.9 675.3,287.2 690.4,285.4 L690.4,285.4 C688.0,284.0 680.7,279.7 676.0,276.8 C671.3,273.9 666.6,270.9 662.0,267.8 C657.4,264.7 650.8,259.9 648.6,258.3 Z" fill="url(#gsh)"/>
</g>
<path d="M174.6,315.8 C176.3,317.3 181.3,321.5 185.0,324.6 C188.7,327.7 192.8,331.2 197.0,334.6 C201.2,338.0 208.1,343.1 210.3,344.8" stroke="#3a3a3d" stroke-width="1.7" fill="none"/>
<path d="M174.6,315.8 L648.6,258.3" stroke="#66676a" stroke-width="1" fill="none"/>
<path d="M210.3,344.8 C215.2,343.9 221.7,342.4 240.0,339.6 C258.3,336.8 280.0,332.9 320.0,328.0 C360.0,323.1 433.3,315.5 480.0,310.2 C526.7,304.9 564.9,300.1 600.0,296.0 C635.1,291.9 675.3,287.2 690.4,285.4" stroke="#58595b" stroke-width="1.2" fill="none"/>
<path class="l" d="M210.5,346.8 L212.6,348 L700.5,287.6"/>
<path class="l" d="M606.7,196.0 C606.8,197.2 606.9,201.2 607.2,203.0 C607.5,204.8 607.6,205.1 608.6,206.6 C609.6,208.1 611.4,209.6 613.5,212.0 C615.6,214.4 617.6,217.0 621.0,221.0 C624.4,225.0 628.3,230.4 633.6,236.0 C638.9,241.6 646.3,249.1 652.7,254.8 C659.1,260.5 665.4,265.4 671.8,270.0 C678.1,274.6 686.3,279.6 690.8,282.4 C695.3,285.2 697.6,286.1 699.0,286.8"/>
<path class="l" d="M614.2,195.2 C614.3,196.2 614.3,199.7 614.6,201.5 C614.9,203.3 614.9,204.2 615.8,205.8 C616.7,207.4 618.1,208.7 620.0,211.0 C621.9,213.3 623.8,215.7 627.0,219.5 C630.2,223.3 634.2,228.4 639.5,234.0 C644.8,239.6 652.2,247.2 658.5,252.8 C664.8,258.4 671.2,263.3 677.5,267.8 C683.8,272.3 691.4,277.1 696.0,280.0 C700.6,282.9 703.5,284.4 705.0,285.3"/>
<path class="lt" d="M648.6,258.3 C650.8,260.0 657.4,265.4 662.0,268.6 C666.6,271.9 671.3,274.9 676.0,277.8 C680.7,280.7 688.0,284.6 690.4,286.0"/>
<path class="lt" d="M607.4,206.9 L615.8,205.9"/>

</g>
<path d="M724.8,934.6 L831.5,921.2 L852,939.4 L864,935.6 L806.9,942.4 L728.6,951.8 Z" fill="#fff"/>
<path d="M801,931 L824,928 L840.6,926.6 L852.7,936.6 L806,942.4 L801.5,939.6 L778,942.4 L776,936.4 Z" fill="#97989b"/>
<path d="M797.5,934.4 L813,932.4 L815.5,936.6 L802,941 Z M824,927.6 L831,926.2 L832,928.2 Z" fill="#5b5c5f"/>
<path class="lt" d="M727,934.4 L831.5,921.2 L840.6,929.4 M729,940.5 L776,935.6 M728.6,951.8 L806.9,942.4 L852,937"/>
<path class="lt" d="M729,945.5 L790,938.5"/>
<path d="M759.7,846.4 L766.5,845.2 C769.5,844.8 771.5,845.1 773,846.6 L866.5,930.4 C868.8,932.6 868.2,936 864.8,937.4 L852,939 L768.9,868 Z" fill="#fff"/>
<path class="lm" d="M759.7,846.2 L766.5,845.2 C769.5,844.8 771.5,845.1 773,846.6 L866.5,930.4 C868.8,932.6 868.2,936 864.8,937.4 L852,939"/>
<path class="lt" d="M759.7,846.4 C759.5,850.3 760.5,854.8 763.5,858.4 L768.9,868 L851.5,939"/>
<path class="lt" d="M764.6,845.8 L768.6,857.4 L857.5,938.2"/>
<path class="lt" d="M769.2,845.4 L772.4,855.6 L862.2,937.6"/>
<path class="lt" d="M763.5,858.4 L772.4,855.6"/>
<path d="M818.6,891.5 l4.4,5.6 M810,899.7 l6.6,6.2" stroke="#2f2f32" stroke-width="3" fill="none"/>
<path d="M664,883 L705.8,878.5 L705.8,925.5 L690,912 L672,896 Z" fill="#c6c7c9"/>
<path class="lt" d="M705.8,879 L705.8,925"/>
<path d="M676,881.5 L696,879.5 L696,886.5 L689,890.5 L680,889.5 Z" fill="#4a4a4d"/>
<path d="M686.5,893 L686.5,904 L691,906" class="l"/>
<path d="M692,899.5 L712,897.2 L713.2,908.2 L693,910.6 Z" fill="#fff" stroke="#505154" stroke-width="1"/>
<path d="M700,898.4 L701,909.6 M706,897.8 L707,909" class="lt"/>
<path d="M634.7,863.4 L702.2,852.4 L759.7,846.2 L768.9,868 L725.3,874.6 L648,884.2 C641,879 636.5,871 634.7,863.4 Z" fill="#fff"/>
<path class="lt" d="M702.2,852.4 L713.9,851.2"/>
<path class="ld" d="M713.9,851.4 L759.7,846.2"/>
<path class="l" d="M713.9,851.4 C714.3,857.3 716.5,862.8 720,867.8 L725.3,874.6 L768.9,868"/>
<path class="l" d="M715.6,860.8 L760.8,855.2 M719.4,866.8 L764.8,861.1"/>
<path class="l" d="M739,862.3 L739.6,859.4 L749.6,858.2 L750,861.2 M725.6,874.3 L725.8,870.8 L732.6,870 L733.2,873.4"/>
<path d="M634.7,863.2 C636,870.5 640.5,878.5 648,884.2" fill="none" stroke="#3a3a3d" stroke-width="2" stroke-linecap="round"/>
<path class="l" d="M648,884.2 L725.3,874.6"/>
<path d="M641.4,885 L656,885 L665.4,889 C680,906 700,922 719.5,932 L719.5,929 L727.5,929 L727.5,966 L746.2,969.6 L746.2,1095.6 L733.5,1095 L642.7,1012.7 L641.4,1008 Z" fill="#fff"/>
<path d="M649.6,886 L656,886 L656,1006 L649.6,1009.5 Z" fill="#a7a9ac"/>
<path class="lt" d="M641.4,885 L641.4,1009 M649.6,886 L649.6,1009.5 M656,886 L656,1006"/>
<path d="M658.7,886 L665.4,886 L665.4,908.5 L658.7,907.4 Z" fill="#97989b"/>
<path class="l" d="M651.4,907.4 L665.4,907.8"/>
<path d="M657.5,887 l6,7 M657.5,894 l6,7" stroke="#fff" stroke-width="1.6" fill="none"/>
<path class="lt" d="M665.4,889.0 C667.8,891.8 674.2,900.0 680.0,906.0 C685.8,912.0 693.1,919.4 700.0,924.8 C706.9,930.2 717.9,936.0 721.5,938.2"/>
<path d="M664.8,894.0 C667.1,897.1 672.9,906.0 678.8,912.5 C684.7,919.0 692.9,927.4 700.0,932.8 C707.1,938.2 717.9,942.8 721.5,944.8" fill="none" stroke="#3a3a3d" stroke-width="2"/>
<path d="M664.6,898.0 C667.0,901.1 672.9,910.0 678.8,916.5 C684.7,923.0 692.8,931.3 700.0,936.8 C707.2,942.3 718.3,947.4 722.0,949.5" fill="none" stroke="#8a8b8e" stroke-width="0.9"/>
<path d="M664.0,903.4 C666.5,906.5 672.8,915.5 678.8,922.0 C684.8,928.5 692.6,936.6 700.0,942.2 C707.4,947.8 719.1,953.3 722.9,955.5" fill="none" stroke="#3a3a3d" stroke-width="2"/>
<path class="l" d="M657.4,908.8 C660.1,912.3 667.2,923.1 673.4,930.0 C679.6,936.9 685.9,943.7 694.8,950.0 C703.7,956.3 721.5,964.7 726.9,967.6"/>
<path class="lt" d="M656.0,916.8 C658.9,920.3 666.9,931.3 673.4,938.0 C679.9,944.7 688.1,952.0 694.8,956.9 C701.5,961.8 710.4,965.8 713.5,967.6"/>
<path d="M720.4,929.5 L727,932.6 L727,966 L720.4,962 Z" fill="#97989b" stroke="#505154" stroke-width="0.9"/>
<path d="M718,929.8 L727,929 L729.5,932" fill="none" stroke="#505154" stroke-width="1.6"/>
<path class="lt" d="M714.8,967.6 L746.2,969.6"/>
<path d="M746.2,969.6 L746.2,1095.6" stroke="#77787b" stroke-width="1.8" fill="none"/>
<path d="M716.8,969 L716.8,1066" stroke="#77787b" stroke-width="2.4" fill="none"/>
<ellipse cx="717.3" cy="973.8" rx="1.8" ry="2.6" fill="#fff" stroke="#505154" stroke-width="0.9"/>
<path class="lt" d="M656.0,984.7 C661.1,990.1 676.8,1008.1 686.8,1016.8 C696.8,1025.5 708.6,1031.9 716.2,1036.8 C723.8,1041.7 729.5,1044.5 732.2,1046.0"/>
<path class="l" d="M656.0,995.4 C661.1,1000.5 676.8,1017.6 686.8,1026.0 C696.8,1034.4 711.3,1042.7 716.2,1046.0"/>
<path class="ld" d="M654.7,1008.7 C660.1,1013.8 676.5,1030.4 686.8,1039.5 C697.0,1048.6 709.5,1058.8 716.2,1063.5 C722.9,1068.2 725.1,1066.8 726.9,1067.5"/>
<path d="M734.9,1048.8 L746.2,1048.8 L746.2,1095.6 L734.9,1095 Z" fill="#f1f1f2"/>
<path d="M725.5,1044.8 L730.9,1047 L730.9,1092.5 L725.5,1088 Z" fill="#d1d2d4"/>
<path class="lt" d="M725.5,1044.8 L725.5,1088 M730.9,1047 L730.9,1093 M734.9,1048.8 L734.9,1095 M734.9,1048.8 L746.2,1048.8 M716.8,1050 L725.5,1053 M718,1066 L727,1067.5"/>
<path d="M642.7,1012.7 L733.5,1095 L746.2,1095.6" fill="none" stroke="#505154" stroke-width="1.8" stroke-linejoin="round"/>
<path d="M641.4,1008.6 L642.7,1012.7 L650.7,1009.6 L658,1005.5" fill="none" stroke="#505154" stroke-width="1.1"/>
<path class="lt" d="M650.7,1010 L734,1090"/>
<path d="M683.5,1049.5 l4.5,3.6" stroke="#505154" stroke-width="2.2" fill="none"/>
</g>
</svg>
</body></html>
